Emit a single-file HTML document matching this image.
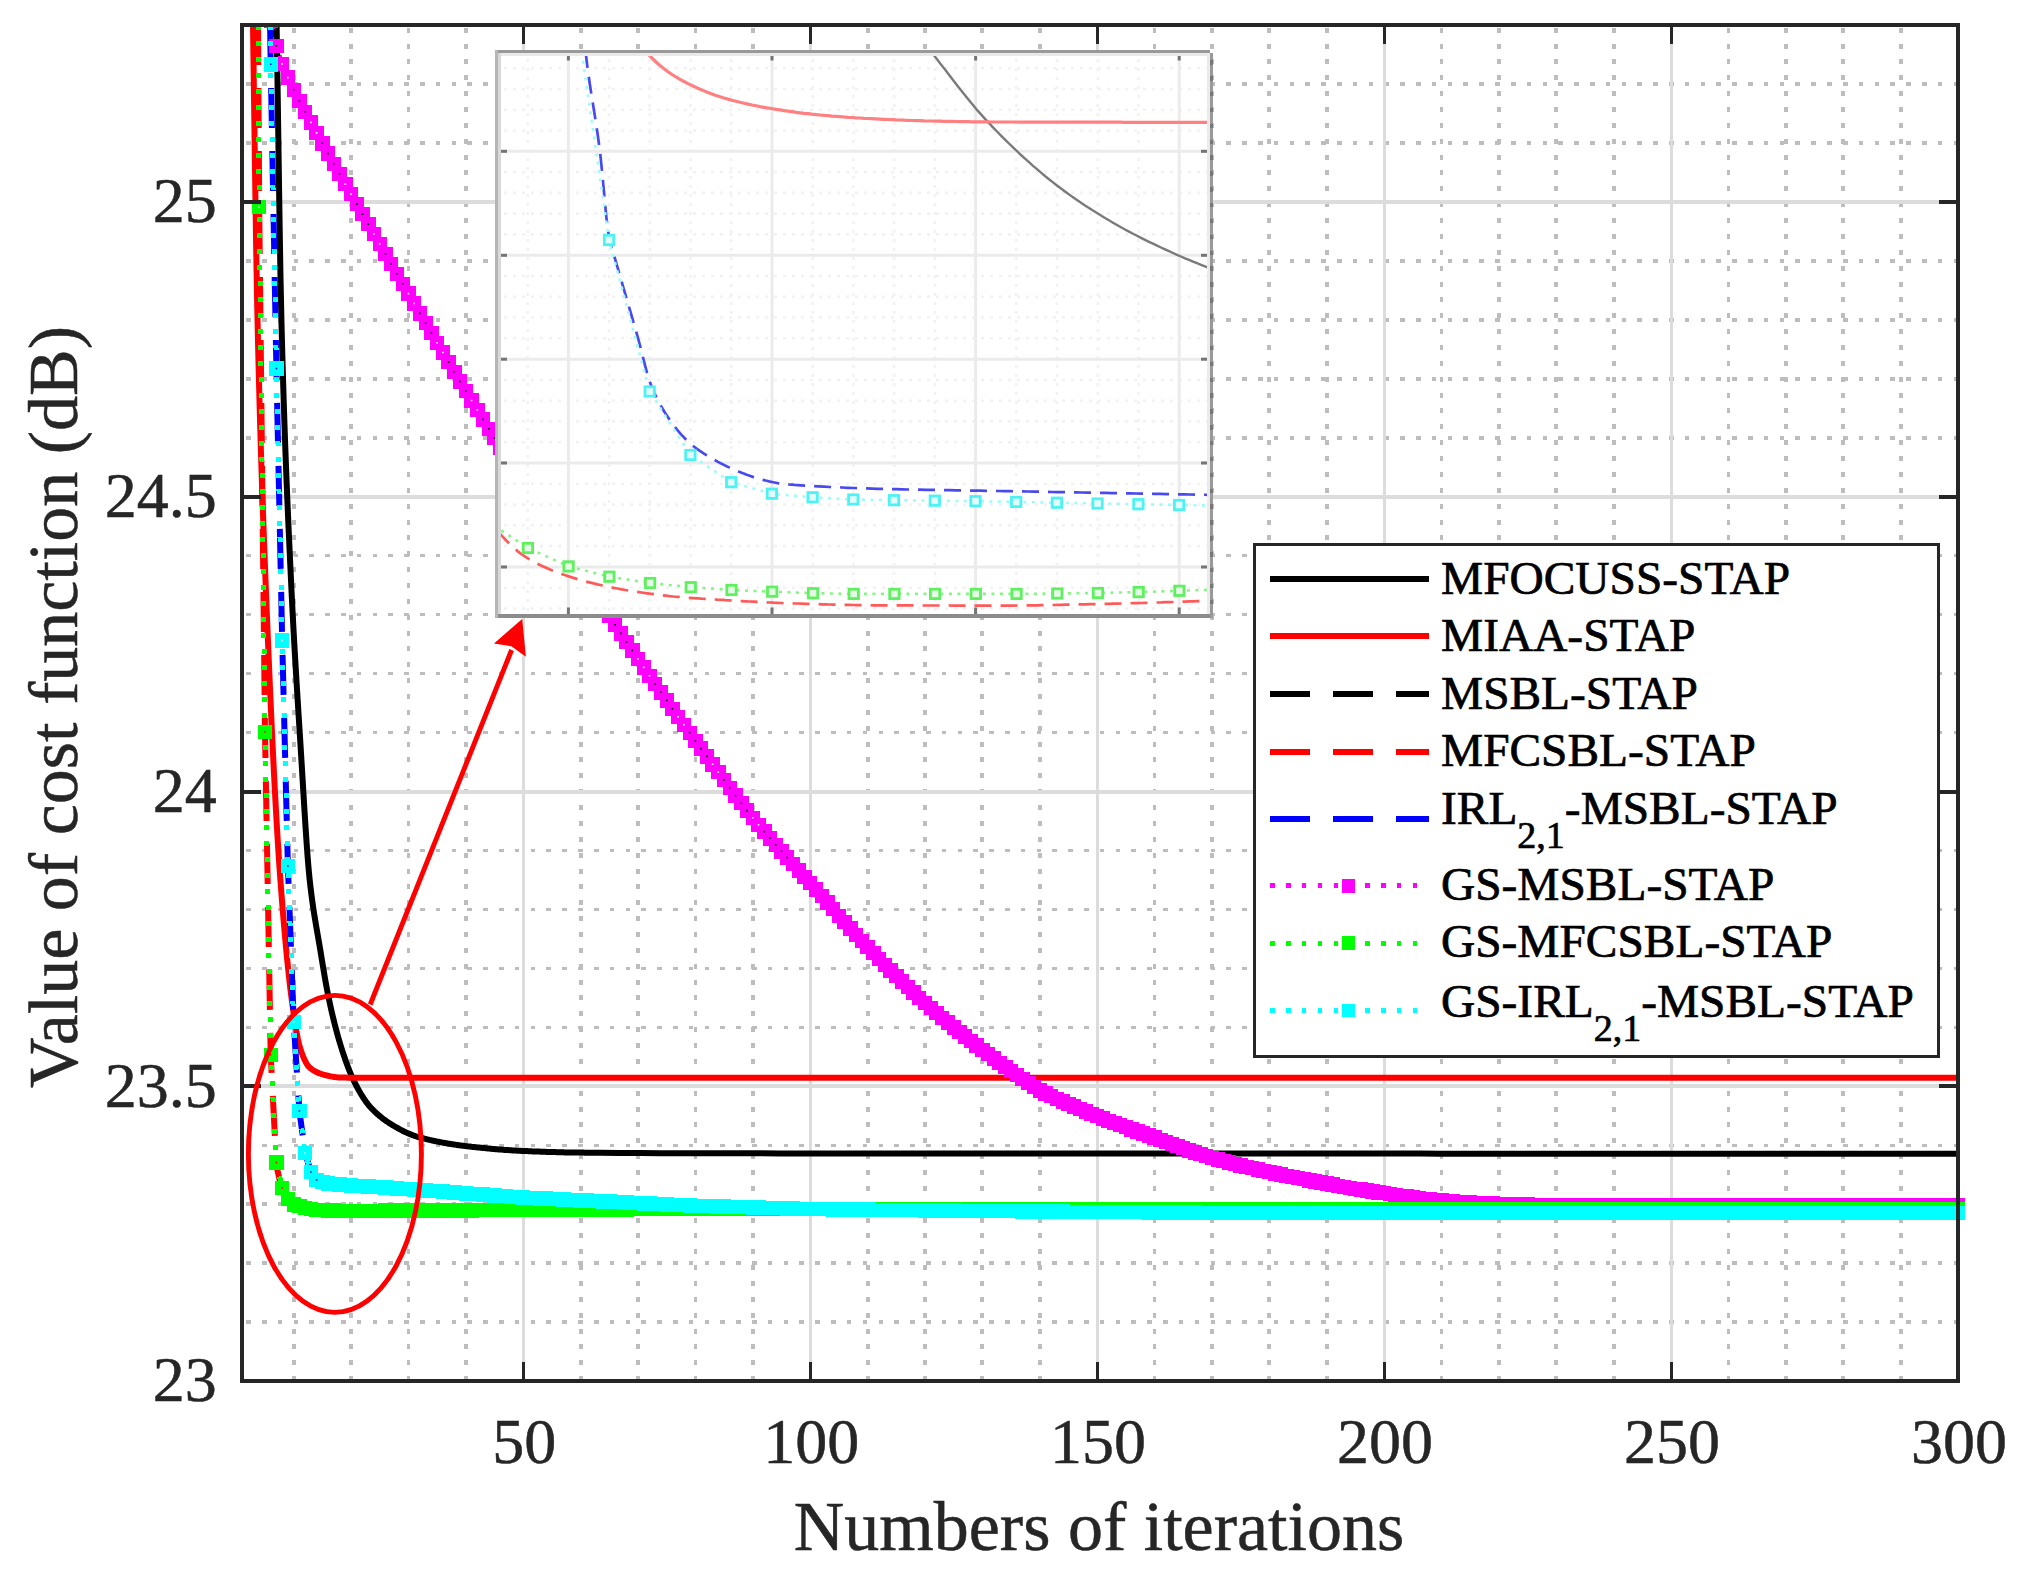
<!DOCTYPE html>
<html lang="en"><head><meta charset="utf-8">
<title>Value of cost function versus numbers of iterations</title>
<style>
html,body{margin:0;padding:0;background:#fff;}
body{width:2022px;height:1577px;overflow:hidden;}
svg{display:block;}
text{font-family:"Liberation Serif", "Times New Roman", Times, serif;fill:#262626;stroke:#262626;stroke-width:0.5px;}
text.lg{fill:#000000;stroke:#000000;stroke-width:0.7px;}
</style></head><body>
<svg width="2022" height="1577" viewBox="0 0 2022 1577">
<rect x="0" y="0" width="2022" height="1577" fill="#ffffff"/>
<defs>
<clipPath id="axclip"><rect x="242" y="23" width="1724" height="1358"/></clipPath>
<clipPath id="inclip"><rect x="498" y="53" width="712" height="561.5"/></clipPath>
<filter id="soft" x="-2%" y="-2%" width="104%" height="104%"><feGaussianBlur stdDeviation="0.75"/></filter>
</defs>
<g id="grid" shape-rendering="crispEdges">
<line x1="293.7" y1="25" x2="293.7" y2="1381" stroke="#bdbdbd" stroke-width="3.8" stroke-dasharray="5 10.865" stroke-dashoffset="-2.7"/>
<line x1="351" y1="25" x2="351" y2="1381" stroke="#bdbdbd" stroke-width="3.8" stroke-dasharray="5 10.865" stroke-dashoffset="-2.7"/>
<line x1="408.4" y1="25" x2="408.4" y2="1381" stroke="#bdbdbd" stroke-width="3.8" stroke-dasharray="5 10.865" stroke-dashoffset="-2.7"/>
<line x1="465.8" y1="25" x2="465.8" y2="1381" stroke="#bdbdbd" stroke-width="3.8" stroke-dasharray="5 10.865" stroke-dashoffset="-2.7"/>
<line x1="580.6" y1="25" x2="580.6" y2="1381" stroke="#bdbdbd" stroke-width="3.8" stroke-dasharray="5 10.865" stroke-dashoffset="-2.7"/>
<line x1="638" y1="25" x2="638" y2="1381" stroke="#bdbdbd" stroke-width="3.8" stroke-dasharray="5 10.865" stroke-dashoffset="-2.7"/>
<line x1="695.4" y1="25" x2="695.4" y2="1381" stroke="#bdbdbd" stroke-width="3.8" stroke-dasharray="5 10.865" stroke-dashoffset="-2.7"/>
<line x1="752.8" y1="25" x2="752.8" y2="1381" stroke="#bdbdbd" stroke-width="3.8" stroke-dasharray="5 10.865" stroke-dashoffset="-2.7"/>
<line x1="867.6" y1="25" x2="867.6" y2="1381" stroke="#bdbdbd" stroke-width="3.8" stroke-dasharray="5 10.865" stroke-dashoffset="-2.7"/>
<line x1="925" y1="25" x2="925" y2="1381" stroke="#bdbdbd" stroke-width="3.8" stroke-dasharray="5 10.865" stroke-dashoffset="-2.7"/>
<line x1="982.3" y1="25" x2="982.3" y2="1381" stroke="#bdbdbd" stroke-width="3.8" stroke-dasharray="5 10.865" stroke-dashoffset="-2.7"/>
<line x1="1039.7" y1="25" x2="1039.7" y2="1381" stroke="#bdbdbd" stroke-width="3.8" stroke-dasharray="5 10.865" stroke-dashoffset="-2.7"/>
<line x1="1154.5" y1="25" x2="1154.5" y2="1381" stroke="#bdbdbd" stroke-width="3.8" stroke-dasharray="5 10.865" stroke-dashoffset="-2.7"/>
<line x1="1211.9" y1="25" x2="1211.9" y2="1381" stroke="#bdbdbd" stroke-width="3.8" stroke-dasharray="5 10.865" stroke-dashoffset="-2.7"/>
<line x1="1269.3" y1="25" x2="1269.3" y2="1381" stroke="#bdbdbd" stroke-width="3.8" stroke-dasharray="5 10.865" stroke-dashoffset="-2.7"/>
<line x1="1326.7" y1="25" x2="1326.7" y2="1381" stroke="#bdbdbd" stroke-width="3.8" stroke-dasharray="5 10.865" stroke-dashoffset="-2.7"/>
<line x1="1441.5" y1="25" x2="1441.5" y2="1381" stroke="#bdbdbd" stroke-width="3.8" stroke-dasharray="5 10.865" stroke-dashoffset="-2.7"/>
<line x1="1498.9" y1="25" x2="1498.9" y2="1381" stroke="#bdbdbd" stroke-width="3.8" stroke-dasharray="5 10.865" stroke-dashoffset="-2.7"/>
<line x1="1556.3" y1="25" x2="1556.3" y2="1381" stroke="#bdbdbd" stroke-width="3.8" stroke-dasharray="5 10.865" stroke-dashoffset="-2.7"/>
<line x1="1613.7" y1="25" x2="1613.7" y2="1381" stroke="#bdbdbd" stroke-width="3.8" stroke-dasharray="5 10.865" stroke-dashoffset="-2.7"/>
<line x1="1728.4" y1="25" x2="1728.4" y2="1381" stroke="#bdbdbd" stroke-width="3.8" stroke-dasharray="5 10.865" stroke-dashoffset="-2.7"/>
<line x1="1785.8" y1="25" x2="1785.8" y2="1381" stroke="#bdbdbd" stroke-width="3.8" stroke-dasharray="5 10.865" stroke-dashoffset="-2.7"/>
<line x1="1843.2" y1="25" x2="1843.2" y2="1381" stroke="#bdbdbd" stroke-width="3.8" stroke-dasharray="5 10.865" stroke-dashoffset="-2.7"/>
<line x1="1900.6" y1="25" x2="1900.6" y2="1381" stroke="#bdbdbd" stroke-width="3.8" stroke-dasharray="5 10.865" stroke-dashoffset="-2.7"/>
<line x1="242" y1="1322" x2="1958" y2="1322" stroke="#bdbdbd" stroke-width="3.4" stroke-dasharray="4.6 11.21" stroke-dashoffset="-4.1"/>
<line x1="242" y1="1263.1" x2="1958" y2="1263.1" stroke="#bdbdbd" stroke-width="3.4" stroke-dasharray="4.6 11.21" stroke-dashoffset="-4.1"/>
<line x1="242" y1="1204.1" x2="1958" y2="1204.1" stroke="#bdbdbd" stroke-width="3.4" stroke-dasharray="4.6 11.21" stroke-dashoffset="-4.1"/>
<line x1="242" y1="1145.2" x2="1958" y2="1145.2" stroke="#bdbdbd" stroke-width="3.4" stroke-dasharray="4.6 11.21" stroke-dashoffset="-4.1"/>
<line x1="242" y1="1027.3" x2="1958" y2="1027.3" stroke="#bdbdbd" stroke-width="3.4" stroke-dasharray="4.6 11.21" stroke-dashoffset="-4.1"/>
<line x1="242" y1="968.4" x2="1958" y2="968.4" stroke="#bdbdbd" stroke-width="3.4" stroke-dasharray="4.6 11.21" stroke-dashoffset="-4.1"/>
<line x1="242" y1="909.4" x2="1958" y2="909.4" stroke="#bdbdbd" stroke-width="3.4" stroke-dasharray="4.6 11.21" stroke-dashoffset="-4.1"/>
<line x1="242" y1="850.5" x2="1958" y2="850.5" stroke="#bdbdbd" stroke-width="3.4" stroke-dasharray="4.6 11.21" stroke-dashoffset="-4.1"/>
<line x1="242" y1="732.5" x2="1958" y2="732.5" stroke="#bdbdbd" stroke-width="3.4" stroke-dasharray="4.6 11.21" stroke-dashoffset="-4.1"/>
<line x1="242" y1="673.6" x2="1958" y2="673.6" stroke="#bdbdbd" stroke-width="3.4" stroke-dasharray="4.6 11.21" stroke-dashoffset="-4.1"/>
<line x1="242" y1="614.6" x2="1958" y2="614.6" stroke="#bdbdbd" stroke-width="3.4" stroke-dasharray="4.6 11.21" stroke-dashoffset="-4.1"/>
<line x1="242" y1="555.7" x2="1958" y2="555.7" stroke="#bdbdbd" stroke-width="3.4" stroke-dasharray="4.6 11.21" stroke-dashoffset="-4.1"/>
<line x1="242" y1="437.8" x2="1958" y2="437.8" stroke="#bdbdbd" stroke-width="3.4" stroke-dasharray="4.6 11.21" stroke-dashoffset="-4.1"/>
<line x1="242" y1="378.9" x2="1958" y2="378.9" stroke="#bdbdbd" stroke-width="3.4" stroke-dasharray="4.6 11.21" stroke-dashoffset="-4.1"/>
<line x1="242" y1="319.9" x2="1958" y2="319.9" stroke="#bdbdbd" stroke-width="3.4" stroke-dasharray="4.6 11.21" stroke-dashoffset="-4.1"/>
<line x1="242" y1="261" x2="1958" y2="261" stroke="#bdbdbd" stroke-width="3.4" stroke-dasharray="4.6 11.21" stroke-dashoffset="-4.1"/>
<line x1="242" y1="143" x2="1958" y2="143" stroke="#bdbdbd" stroke-width="3.4" stroke-dasharray="4.6 11.21" stroke-dashoffset="-4.1"/>
<line x1="242" y1="84.1" x2="1958" y2="84.1" stroke="#bdbdbd" stroke-width="3.4" stroke-dasharray="4.6 11.21" stroke-dashoffset="-4.1"/>
<rect x="522" y="27" width="3" height="1352" fill="#dcdcdc"/>
<rect x="809" y="27" width="3" height="1352" fill="#dcdcdc"/>
<rect x="1096" y="27" width="3" height="1352" fill="#dcdcdc"/>
<rect x="1383" y="27" width="3" height="1352" fill="#dcdcdc"/>
<rect x="1670" y="27" width="3" height="1352" fill="#dcdcdc"/>
<rect x="244" y="1084" width="1712" height="4" fill="#dcdcdc"/>
<rect x="244" y="790" width="1712" height="4" fill="#dcdcdc"/>
<rect x="244" y="495" width="1712" height="4" fill="#dcdcdc"/>
<rect x="244" y="200" width="1712" height="4" fill="#dcdcdc"/>
</g>
<g id="curves" clip-path="url(#axclip)" fill="none" stroke-linejoin="round">
<polyline points="272.5,-200 273.5,-147.4 274.5,-93.3 275.5,-37.8 276.5,19.2 277.5,81.2 278.5,149.4 279.5,217 280.5,277.4 281.5,323.9 282.5,361 283.5,394.7 284.5,425.3 285.5,453.4 286.5,479.3 287.5,503.5 288.5,526.3 289.5,548.1 290.5,569.4 291.5,590.4 292.5,610.4 293.5,629.3 294.5,647.3 295.5,664.5 296.5,681.2 297.5,697.4 298.5,713.4 299.5,729.2 300.5,745 301.5,761.2 302.5,777.7 303.5,794.3 304.5,810.7 305.5,826.5 306.5,841.4 307.5,855.2 308.5,867.5 309.5,878.1 310.5,887.1 311.5,895.2 312.5,902.7 313.5,909.6 314.5,916 315.5,922.1 316.5,927.9 317.5,933.7 318.5,939.4 319.5,945.2 320.5,951.2 321.5,957.4 322.5,963.5 323.5,969.5 324.5,975.5 325.5,981.2 326.5,986.8 327.5,992 328.5,997 329.5,1001.7 330.5,1006.3 331.5,1010.8 332.5,1015.1 333.5,1019.3 334.5,1023.4 335.5,1027.3 336.5,1031.1 337.5,1034.8 338.5,1038.3 339.5,1041.7 340.5,1045 341.5,1048.1 342.5,1051.3 343.5,1054.3 344.5,1057.3 345.5,1060.2 346.5,1063 347.5,1065.7 348.5,1068.3 349.5,1070.9 350.5,1073.3 351.5,1075.7 352.5,1077.9 353.5,1080.1 354.5,1082.1 355.5,1084.1 356.5,1086 357.5,1087.9 358.5,1089.7 359.5,1091.5 360.5,1093.2 361.5,1094.9 362.5,1096.5 363.5,1098 364.5,1099.6 365.5,1101 366.5,1102.4 367.5,1103.7 368.5,1105 369.5,1106.2 370.5,1107.3 371.5,1108.4 372.5,1109.4 373.5,1110.4 374.5,1111.4 375.5,1112.3 376.5,1113.3 377.5,1114.2 378.5,1115 379.5,1115.9 380.5,1116.7 381.5,1117.5 382.5,1118.3 383.5,1119.1 384.5,1119.8 385.5,1120.5 386.5,1121.2 387.5,1121.9 388.5,1122.6 389.5,1123.2 390.5,1123.9 391.5,1124.5 392.5,1125.1 393.5,1125.7 394.5,1126.3 395.5,1126.9 396.5,1127.4 397.5,1128 398.5,1128.5 399.5,1129.1 400.5,1129.6 401.5,1130.1 402.5,1130.7 403.5,1131.2 404.5,1131.7 405.5,1132.1 406.5,1132.6 407.5,1133.1 408.5,1133.5 409.5,1133.9 410.5,1134.3 411.5,1134.7 412.5,1135.1 413.5,1135.5 414.5,1135.8 415.5,1136.2 416.5,1136.5 417.5,1136.8 418.5,1137.1 419.5,1137.3 420.5,1137.6 421.5,1137.9 422.5,1138.1 423.5,1138.4 424.5,1138.7 425.5,1138.9 426.5,1139.2 427.5,1139.4 428.5,1139.6 429.5,1139.9 430.5,1140.1 431.5,1140.3 432.5,1140.6 433.5,1140.8 434.5,1141 435.5,1141.2 436.5,1141.4 437.5,1141.6 438.5,1141.8 439.5,1142 440.5,1142.2 441.5,1142.4 442.5,1142.6 443.5,1142.8 444.5,1143 445.5,1143.1 446.5,1143.3 447.5,1143.5 448.5,1143.7 449.5,1143.8 450.5,1144 451.5,1144.1 452.5,1144.3 453.5,1144.5 454.5,1144.6 455.5,1144.7 456.5,1144.9 457.5,1145 458.5,1145.2 459.5,1145.3 460.5,1145.4 461.5,1145.6 462.5,1145.7 463.5,1145.8 464.5,1145.9 465.5,1146.1 466.5,1146.2 467.5,1146.3 468.5,1146.4 469.5,1146.5 470.5,1146.6 471.5,1146.8 472.5,1146.9 473.5,1147 474.5,1147.1 475.5,1147.2 476.5,1147.3 477.5,1147.4 478.5,1147.5 479.5,1147.6 480.5,1147.7 481.5,1147.8 482.5,1147.9 483.5,1148 484.5,1148.1 485.5,1148.2 486.5,1148.3 487.5,1148.4 488.5,1148.5 489.5,1148.6 490.5,1148.7 491.5,1148.8 492.5,1148.9 493.5,1149 494.5,1149.1 495.5,1149.2 496.5,1149.2 497.5,1149.3 498.5,1149.4 499.5,1149.5 500.5,1149.6 501.5,1149.6 502.5,1149.7 503.5,1149.8 504.5,1149.9 505.5,1149.9 506.5,1150 507.5,1150.1 508.5,1150.1 509.5,1150.2 510.5,1150.3 511.5,1150.3 512.5,1150.4 513.5,1150.5 514.5,1150.5 515.5,1150.6 516.5,1150.6 517.5,1150.7 518.5,1150.7 519.5,1150.8 520.5,1150.8 521.5,1150.9 522.5,1150.9 523.5,1151 524.5,1151 525.5,1151.1 526.5,1151.1 527.5,1151.1 528.5,1151.2 529.5,1151.2 530.5,1151.3 531.5,1151.3 532.5,1151.4 533.5,1151.4 534.5,1151.4 535.5,1151.5 536.5,1151.5 537.5,1151.5 538.5,1151.6 539.5,1151.6 540.5,1151.7 541.5,1151.7 542.5,1151.7 543.5,1151.8 544.5,1151.8 545.5,1151.8 546.5,1151.9 547.5,1151.9 548.5,1151.9 549.5,1152 550.5,1152 551.5,1152 552.5,1152 553.5,1152.1 554.5,1152.1 555.5,1152.1 556.5,1152.2 557.5,1152.2 558.5,1152.2 559.5,1152.2 560.5,1152.3 561.5,1152.3 562.5,1152.3 563.5,1152.3 564.5,1152.4 565.5,1152.4 566.5,1152.4 567.5,1152.4 568.5,1152.4 569.5,1152.5 570.5,1152.5 571.5,1152.5 572.5,1152.5 573.5,1152.5 574.5,1152.5 575.5,1152.6 576.5,1152.6 577.5,1152.6 578.5,1152.6 579.5,1152.6 580.5,1152.6 581.5,1152.6 582.5,1152.6 583.5,1152.6 584.5,1152.7 585.5,1152.7 586.5,1152.7 587.5,1152.7 588.5,1152.7 589.5,1152.7 590.5,1152.7 591.5,1152.7 592.5,1152.7 593.5,1152.7 594.5,1152.7 595.5,1152.8 596.5,1152.8 597.5,1152.8 598.5,1152.8 599.5,1152.8 600,1152.8 620,1153 640,1153.1 660,1153.2 680,1153.3 700,1153.3 720,1153.3 740,1153.3 760,1153.3 780,1153.4 800,1153.4 820,1153.4 840,1153.4 860,1153.4 880,1153.4 900,1153.4 920,1153.5 940,1153.5 960,1153.5 980,1153.5 1000,1153.5 1020,1153.5 1040,1153.5 1060,1153.5 1080,1153.5 1100,1153.5 1120,1153.6 1140,1153.6 1160,1153.6 1180,1153.6 1200,1153.6 1220,1153.6 1240,1153.6 1260,1153.6 1280,1153.6 1300,1153.6 1320,1153.6 1340,1153.6 1360,1153.6 1380,1153.6 1400,1153.6 1420,1153.6 1440,1153.7 1460,1153.7 1480,1153.7 1500,1153.7 1520,1153.7 1540,1153.7 1560,1153.7 1580,1153.7 1600,1153.7 1620,1153.7 1640,1153.7 1660,1153.7 1680,1153.7 1700,1153.7 1720,1153.7 1740,1153.7 1760,1153.7 1780,1153.7 1800,1153.7 1820,1153.7 1840,1153.7 1860,1153.7 1880,1153.7 1900,1153.7 1920,1153.7 1940,1153.7 1957.5,1153.7" stroke="#000000" stroke-width="6"/>
<polyline points="250,-200 251,-122.3 252,-47.1 253,25 254,97 255,169.2 256,237 257,295.6 258,341.9 259,382.6 260,419.6 261,453.5 262,484.7 263,513.7 264,541 265,567.2 266,592.7 267,617.6 268,641.9 269,665.6 270,688.7 271,711 272,732.7 273,753.5 274,773.5 275,792.7 276,811 277,828.4 278,844.8 279,860.2 280,874.6 281,887.9 282,900.8 283,913.2 284,925 285,936.4 286,947.3 287,957.6 288,967.5 289,976.8 290,985.6 291,993.9 292,1001.7 293,1008.9 294,1015.7 295,1022.3 296,1028.5 297,1034.2 298,1039.4 299,1044 300,1047.7 301,1050.8 302,1053.5 303,1056.1 304,1058.5 305,1060.7 306,1062.6 307,1064.3 308,1065.8 309,1066.9 310,1067.8 311,1068.6 312,1069.4 313,1070.1 314,1070.7 315,1071.3 316,1071.8 317,1072.3 318,1072.7 319,1073.2 320,1073.5 321,1073.9 322,1074.2 323,1074.5 324,1074.8 325,1075 326,1075.3 327,1075.5 328,1075.7 329,1076 330,1076.2 331,1076.4 332,1076.6 333,1076.8 334,1076.9 335,1077.1 336,1077.2 337,1077.3 338,1077.4 339,1077.5 340,1077.5 341,1077.5 342,1077.6 343,1077.6 344,1077.6 345,1077.6 346,1077.6 347,1077.7 348,1077.7 349,1077.7 350,1077.7 351,1077.7 352,1077.7 353,1077.8 354,1077.8 355,1077.8 356,1077.8 357,1077.8 358,1077.8 359,1077.8 360,1077.8 361,1077.8 362,1077.8 363,1077.8 364,1077.8 365,1077.8 366,1077.8 367,1077.8 368,1077.8 369,1077.8 370,1077.8 371,1077.8 372,1077.8 373,1077.8 374,1077.8 375,1077.8 376,1077.8 377,1077.8 378,1077.8 379,1077.8 380,1077.8 381,1077.8 382,1077.8 383,1077.8 384,1077.8 385,1077.8 386,1077.8 387,1077.8 388,1077.8 389,1077.8 390,1077.8 391,1077.8 392,1077.8 393,1077.8 394,1077.8 395,1077.8 396,1077.8 397,1077.8 398,1077.8 399,1077.8 1957.5,1077.8" stroke="#ff0000" stroke-width="6"/>
<polyline points="271.6,25 276.4,45.9 282.2,63.9 287.9,77.6 293.7,89.8 299.4,101 305.1,111.8 310.9,122.4 316.6,132.9 322.3,143.3 328.1,153.6 333.8,163.8 339.6,174 345.3,184.1 351,194.1 356.8,204.1 362.5,214.1 368.3,224.1 374,234 379.7,244 385.5,254 391.2,263.9 397,273.8 402.7,283.8 408.4,293.6 414.2,303.5 419.9,313.4 425.7,323.2 431.4,333 437.1,342.7 442.9,352.5 448.6,362.1 454.3,371.8 460.1,381.4 465.8,391 471.6,400.5 477.3,410 483,419.4 488.8,428.8 494.5,438.1 500.3,447.3 506,456.5 511.7,465.7 517.5,474.8 523.2,483.9 529,493 534.7,502 540.4,510.9 546.2,519.9 551.9,528.7 557.7,537.6 563.4,546.4 569.1,555.2 574.9,564 580.6,572.8 586.3,581.5 592.1,590.2 597.8,598.9 603.6,607.5 609.3,616.2 615,624.8 620.8,633.4 626.5,642 632.3,650.5 638,659 643.7,667.4 649.5,675.8 655.2,684.1 661,692.3 666.7,700.5 672.4,708.7 678.2,716.8 683.9,724.8 689.7,732.8 695.4,740.7 701.1,748.6 706.9,756.4 712.6,764.3 718.3,772.2 724.1,780.1 729.8,787.9 735.6,795.6 741.3,803.2 747,810.6 752.8,817.8 758.5,824.8 764.3,831.6 770,838.3 775.7,844.8 781.5,851.3 787.2,857.6 793,864 798.7,870.3 804.4,876.7 810.2,883.1 815.9,889.6 821.7,896.1 827.4,902.6 833.1,909.2 838.9,915.7 844.6,922.2 850.3,928.6 856.1,934.9 861.8,941.1 867.6,947.1 873.3,953 879,958.9 884.8,964.7 890.5,970.4 896.3,976 902,981.6 907.7,987.1 913.5,992.5 919.2,997.7 925,1002.9 930.7,1008 936.4,1013 942.2,1017.8 947.9,1022.6 953.7,1027.3 959.4,1032 965.1,1036.5 970.9,1041 976.6,1045.5 982.3,1049.8 988.1,1054.2 993.8,1058.5 999.6,1062.7 1005.3,1066.9 1011,1071 1016.8,1075 1022.5,1079 1028.3,1082.9 1034,1086.8 1039.7,1090.6 1045.5,1093.4 1051.2,1096.1 1057,1098.7 1062.7,1101.4 1068.4,1104 1074.2,1106.5 1079.9,1109 1085.7,1111.5 1091.4,1113.9 1097.1,1116.2 1102.9,1118.5 1108.6,1120.8 1114.3,1123 1120.1,1125.1 1125.8,1127.2 1131.6,1129.3 1137.3,1131.4 1143,1133.5 1148.8,1135.5 1154.5,1137.6 1160.3,1139.7 1166,1141.8 1171.7,1143.9 1177.5,1146.1 1183.2,1148.2 1189,1150.3 1194.7,1152.3 1200.4,1154.2 1206.2,1156.1 1211.9,1157.8 1217.7,1159.5 1223.4,1161 1229.1,1162.5 1234.9,1164 1240.6,1165.4 1246.3,1166.8 1252.1,1168.1 1257.8,1169.4 1263.6,1170.7 1269.3,1172 1275,1173.3 1280.8,1174.5 1286.5,1175.7 1292.3,1176.9 1298,1178.1 1303.7,1179.2 1309.5,1180.4 1315.2,1181.5 1321,1182.5 1326.7,1183.6 1332.4,1184.6 1338.2,1185.7 1343.9,1186.7 1349.7,1187.7 1355.4,1188.7 1361.1,1189.6 1366.9,1190.6 1372.6,1191.5 1378.3,1192.4 1384.1,1193.2 1389.8,1194 1395.6,1194.9 1401.3,1195.7 1407,1196.5 1412.8,1197.3 1418.5,1198 1424.3,1198.7 1430,1199.3 1435.7,1199.9 1441.5,1200.4 1447.2,1200.8 1453,1201.3 1458.7,1201.7 1464.4,1202 1470.2,1202.4 1475.9,1202.7 1481.7,1203 1487.4,1203.3 1493.1,1203.5 1498.9,1203.7 1504.6,1203.9 1510.3,1204.1 1516.1,1204.2 1521.8,1204.4 1527.6,1204.5 1533.3,1204.7 1539,1204.8 1544.8,1204.9 1550.5,1204.9 1556.3,1205 1562,1205 1567.7,1205.1 1573.5,1205.1 1579.2,1205.2 1585,1205.2 1590.7,1205.2 1596.4,1205.3 1602.2,1205.3 1607.9,1205.3 1613.7,1205.3 1619.4,1205.4 1625.1,1205.4 1630.9,1205.4 1636.6,1205.4 1642.3,1205.4 1648.1,1205.4 1653.8,1205.4 1659.6,1205.4 1665.3,1205.4 1671,1205.4 1676.8,1205.4 1682.5,1205.4 1688.3,1205.4 1694,1205.4 1699.7,1205.4 1705.5,1205.4 1711.2,1205.4 1717,1205.4 1722.7,1205.4 1728.4,1205.4 1734.2,1205.4 1739.9,1205.4 1745.7,1205.4 1751.4,1205.4 1757.1,1205.4 1762.9,1205.4 1768.6,1205.4 1774.3,1205.4 1780.1,1205.4 1785.8,1205.4 1791.6,1205.4 1797.3,1205.4 1803,1205.4 1808.8,1205.4 1814.5,1205.4 1820.3,1205.4 1826,1205.4 1831.7,1205.4 1837.5,1205.4 1843.2,1205.4 1849,1205.4 1854.7,1205.4 1860.4,1205.4 1866.2,1205.4 1871.9,1205.4 1877.7,1205.4 1883.4,1205.4 1889.1,1205.4 1894.9,1205.4 1900.6,1205.4 1906.3,1205.4 1912.1,1205.4 1917.8,1205.4 1923.6,1205.4 1929.3,1205.4 1935,1205.4 1940.8,1205.4 1946.5,1205.4 1952.3,1205.4 1958,1205.4" stroke="#000000" stroke-width="2" stroke-dasharray="40 23"/>
<polyline points="258,25 259.2,207 265,732 270.7,1054.7 276.4,1165.6 282.2,1191 287.9,1202 293.7,1207.5 299.4,1209.2 305.1,1211 310.9,1212 316.6,1213 322.3,1213.2 328.1,1213.4 333.8,1213.5 339.6,1213.7 345.3,1213.8 351,1213.8 356.8,1213.8 362.5,1213.7 368.3,1213.7 374,1213.7 379.7,1213.7 385.5,1213.6 391.2,1213.6 397,1213.6 402.7,1213.6 408.4,1213.6 414.2,1213.5 419.9,1213.5 425.7,1213.5 431.4,1213.4 437.1,1213.4 442.9,1213.4 448.6,1213.4 454.3,1213.3 460.1,1213.3 465.8,1213.3 471.6,1213.3 477.3,1213.2 483,1213.2 488.8,1213.2 494.5,1213.1 500.3,1213.1 506,1213.1 511.7,1213.1 517.5,1213 523.2,1213 529,1213 534.7,1212.9 540.4,1212.9 546.2,1212.8 551.9,1212.8 557.7,1212.8 563.4,1212.7 569.1,1212.7 574.9,1212.6 580.6,1212.6 586.3,1212.6 592.1,1212.5 597.8,1212.5 603.6,1212.4 609.3,1212.4 615,1212.4 620.8,1212.3 626.5,1212.3 632.3,1212.2 638,1212.2 643.7,1212.2 649.5,1212.1 655.2,1212.1 661,1212 666.7,1212 672.4,1212 678.2,1211.9 683.9,1211.9 689.7,1211.8 695.4,1211.8 701.1,1211.8 706.9,1211.8 712.6,1211.8 718.3,1211.9 724.1,1211.9 729.8,1211.9 735.6,1211.9 741.3,1211.9 747,1211.9 752.8,1211.9 758.5,1211.9 764.3,1212 770,1212 775.7,1212 781.5,1212 787.2,1212 793,1212 798.7,1212 804.4,1212.1 810.2,1212.1 815.9,1212.1 821.7,1212.1 827.4,1212.1 833.1,1212.1 838.9,1212.1 844.6,1212.1 850.3,1212.2 856.1,1212.2 861.8,1212.2 867.6,1212.2 873.3,1212.2 879,1212.2 884.8,1212.2 890.5,1212.2 896.3,1212.2 902,1212.2 907.7,1212.2 913.5,1212.2 919.2,1212.2 925,1212.2 930.7,1212.2 936.4,1212.2 942.2,1212.2 947.9,1212.2 953.7,1212.2 959.4,1212.2 965.1,1212.2 970.9,1212.2 976.6,1212.2 982.3,1212.2 988.1,1212.2 993.8,1212.2 999.6,1212.2 1005.3,1212.2 1011,1212.2 1016.8,1212.2 1022.5,1212.2 1028.3,1212.2 1034,1212.2 1039.7,1212.2 1045.5,1212.2 1051.2,1212.2 1057,1212.2 1062.7,1212.2 1068.4,1212.2 1074.2,1212.2 1079.9,1212.2 1085.7,1212.2 1091.4,1212.2 1097.1,1212.2 1102.9,1212.2 1108.6,1212.2 1114.3,1212.2 1120.1,1212.2 1125.8,1212.1 1131.6,1212.1 1137.3,1212.1 1143,1212.1 1148.8,1212.1 1154.5,1212.1 1160.3,1212.1 1166,1212.1 1171.7,1212.1 1177.5,1212.1 1183.2,1212.1 1189,1212.1 1194.7,1212.1 1200.4,1212.1 1206.2,1212.1 1211.9,1212.1 1217.7,1212.1 1223.4,1212.1 1229.1,1212.1 1234.9,1212.1 1240.6,1212.1 1246.3,1212.1 1252.1,1212.1 1257.8,1212.1 1263.6,1212.1 1269.3,1212.1 1275,1212.1 1280.8,1212.1 1286.5,1212.1 1292.3,1212.1 1298,1212.1 1303.7,1212.1 1309.5,1212.1 1315.2,1212.1 1321,1212.1 1326.7,1212.1 1332.4,1212.1 1338.2,1212.1 1343.9,1212.1 1349.7,1212.1 1355.4,1212.1 1361.1,1212.1 1366.9,1212.1 1372.6,1212.1 1378.3,1212.1 1384.1,1212.1 1389.8,1212.1 1395.6,1212.1 1401.3,1212.1 1407,1212.1 1412.8,1212.1 1418.5,1212.1 1424.3,1212.1 1430,1212.1 1435.7,1212.1 1441.5,1212.1 1447.2,1212.1 1453,1212.1 1458.7,1212.1 1464.4,1212.1 1470.2,1212.1 1475.9,1212.1 1481.7,1212.1 1487.4,1212.1 1493.1,1212.1 1498.9,1212.1 1504.6,1212.1 1510.3,1212.1 1516.1,1212.1 1521.8,1212.1 1527.6,1212 1533.3,1212 1539,1212 1544.8,1212 1550.5,1212 1556.3,1212 1562,1212 1567.7,1212 1573.5,1212 1579.2,1212 1585,1212 1590.7,1212 1596.4,1212 1602.2,1212 1607.9,1212 1613.7,1212 1619.4,1212 1625.1,1212 1630.9,1212 1636.6,1212 1642.3,1212 1648.1,1212 1653.8,1212 1659.6,1212 1665.3,1212 1671,1212 1676.8,1212 1682.5,1212 1688.3,1212 1694,1212 1699.7,1212 1705.5,1212 1711.2,1212 1717,1212 1722.7,1212 1728.4,1212 1734.2,1212 1739.9,1212 1745.7,1212 1751.4,1212 1757.1,1212 1762.9,1212 1768.6,1212 1774.3,1212 1780.1,1212 1785.8,1212 1791.6,1212 1797.3,1212 1803,1212 1808.8,1212 1814.5,1212 1820.3,1211.9 1826,1211.9 1831.7,1211.9 1837.5,1211.9 1843.2,1211.9 1849,1211.9 1854.7,1211.9 1860.4,1211.9 1866.2,1211.9 1871.9,1211.9 1877.7,1211.9 1883.4,1211.9 1889.1,1211.9 1894.9,1211.9 1900.6,1211.9 1906.3,1211.9 1912.1,1211.9 1917.8,1211.9 1923.6,1211.9 1929.3,1211.9 1935,1211.9 1940.8,1211.9 1946.5,1211.9 1952.3,1211.9 1958,1211.9" stroke="#ff0000" stroke-width="6" stroke-dasharray="40 23"/>
<polyline points="270.1,25 270.7,64.3 276.4,368.5 282.2,640.4 287.9,866 293.7,1022 299.4,1111 305.1,1153 310.9,1172 316.6,1180 322.3,1178.8 328.1,1180.5 333.8,1181 339.6,1181.5 345.3,1182 351,1182.4 356.8,1182.7 362.5,1183.1 368.3,1183.5 374,1183.8 379.7,1184.2 385.5,1184.6 391.2,1184.9 397,1185.3 402.7,1185.7 408.4,1186.1 414.2,1186.5 419.9,1187 425.7,1187.4 431.4,1187.8 437.1,1188.2 442.9,1188.6 448.6,1189.1 454.3,1189.5 460.1,1189.9 465.8,1190.3 471.6,1190.7 477.3,1191.2 483,1191.6 488.8,1192 494.5,1192.4 500.3,1192.8 506,1193.2 511.7,1193.7 517.5,1194.1 523.2,1194.5 529,1194.8 534.7,1195.1 540.4,1195.3 546.2,1195.6 551.9,1195.9 557.7,1196.2 563.4,1196.4 569.1,1196.7 574.9,1197 580.6,1197.3 586.3,1197.5 592.1,1197.8 597.8,1198.1 603.6,1198.4 609.3,1198.6 615,1198.9 620.8,1199.2 626.5,1199.5 632.3,1199.7 638,1200 643.7,1200.3 649.5,1200.6 655.2,1200.8 661,1201.1 666.7,1201.4 672.4,1201.7 678.2,1201.9 683.9,1202.2 689.7,1202.5 695.4,1202.7 701.1,1202.9 706.9,1203.1 712.6,1203.2 718.3,1203.4 724.1,1203.5 729.8,1203.7 735.6,1203.9 741.3,1204 747,1204.2 752.8,1204.4 758.5,1204.5 764.3,1204.7 770,1204.9 775.7,1205 781.5,1205.2 787.2,1205.3 793,1205.5 798.7,1205.7 804.4,1205.8 810.2,1206 815.9,1206.1 821.7,1206.1 827.4,1206.2 833.1,1206.3 838.9,1206.3 844.6,1206.4 850.3,1206.5 856.1,1206.5 861.8,1206.6 867.6,1206.6 873.3,1206.7 879,1206.8 884.8,1206.8 890.5,1206.9 896.3,1207 902,1207 907.7,1207.1 913.5,1207.2 919.2,1207.2 925,1207.3 930.7,1207.4 936.4,1207.4 942.2,1207.5 947.9,1207.5 953.7,1207.6 959.4,1207.7 965.1,1207.7 970.9,1207.8 976.6,1207.9 982.3,1207.9 988.1,1208 993.8,1208 999.6,1208.1 1005.3,1208.1 1011,1208.2 1016.8,1208.2 1022.5,1208.3 1028.3,1208.3 1034,1208.4 1039.7,1208.4 1045.5,1208.5 1051.2,1208.5 1057,1208.6 1062.7,1208.6 1068.4,1208.7 1074.2,1208.7 1079.9,1208.8 1085.7,1208.8 1091.4,1208.8 1097.1,1208.9 1102.9,1208.9 1108.6,1209 1114.3,1209 1120.1,1209.1 1125.8,1209.1 1131.6,1209.2 1137.3,1209.2 1143,1209.2 1148.8,1209.3 1154.5,1209.3 1160.3,1209.4 1166,1209.4 1171.7,1209.5 1177.5,1209.5 1183.2,1209.6 1189,1209.6 1194.7,1209.6 1200.4,1209.7 1206.2,1209.7 1211.9,1209.8 1217.7,1209.8 1223.4,1209.9 1229.1,1209.9 1234.9,1210 1240.6,1210 1246.3,1210 1252.1,1210 1257.8,1210 1263.6,1210 1269.3,1210 1275,1210 1280.8,1210 1286.5,1210 1292.3,1210 1298,1210 1303.7,1210 1309.5,1210 1315.2,1210 1321,1210 1326.7,1210 1332.4,1210 1338.2,1210 1343.9,1210 1349.7,1210 1355.4,1210 1361.1,1210 1366.9,1210 1372.6,1210 1378.3,1210 1384.1,1210 1389.8,1210 1395.6,1210 1401.3,1210 1407,1210 1412.8,1210 1418.5,1210 1424.3,1210 1430,1210 1435.7,1210 1441.5,1210 1447.2,1210 1453,1210 1458.7,1210 1464.4,1210 1470.2,1210 1475.9,1210 1481.7,1210 1487.4,1210 1493.1,1210 1498.9,1210 1504.6,1210 1510.3,1210 1516.1,1210 1521.8,1210 1527.6,1210 1533.3,1210 1539,1210 1544.8,1210 1550.5,1210 1556.3,1210 1562,1210 1567.7,1210 1573.5,1210 1579.2,1210 1585,1210 1590.7,1210 1596.4,1210 1602.2,1210 1607.9,1210 1613.7,1210 1619.4,1210 1625.1,1210 1630.9,1210 1636.6,1210 1642.3,1210 1648.1,1210 1653.8,1210 1659.6,1210 1665.3,1210 1671,1210 1676.8,1210 1682.5,1210 1688.3,1210 1694,1210 1699.7,1210 1705.5,1210 1711.2,1210 1717,1210 1722.7,1210 1728.4,1210 1734.2,1210 1739.9,1210 1745.7,1210 1751.4,1210 1757.1,1210 1762.9,1210 1768.6,1210 1774.3,1210 1780.1,1210 1785.8,1210 1791.6,1210 1797.3,1210 1803,1210 1808.8,1210 1814.5,1210 1820.3,1210 1826,1210 1831.7,1210 1837.5,1210 1843.2,1210 1849,1210 1854.7,1210 1860.4,1210 1866.2,1210 1871.9,1210 1877.7,1210 1883.4,1210 1889.1,1210 1894.9,1210 1900.6,1210 1906.3,1210 1912.1,1210 1917.8,1210 1923.6,1210 1929.3,1210 1935,1210 1940.8,1210 1946.5,1210 1952.3,1210 1958,1210" stroke="#0000ff" stroke-width="6" stroke-dasharray="40 23"/>
<g id="gs-msbl">
<polyline points="271.6,25 276.4,45.9 282.2,63.9 287.9,77.6 293.7,89.8 299.4,101 305.1,111.8 310.9,122.4 316.6,132.9 322.3,143.3 328.1,153.6 333.8,163.8 339.6,174 345.3,184.1 351,194.1 356.8,204.1 362.5,214.1 368.3,224.1 374,234 379.7,244 385.5,254 391.2,263.9 397,273.8 402.7,283.8 408.4,293.6 414.2,303.5 419.9,313.4 425.7,323.2 431.4,333 437.1,342.7 442.9,352.5 448.6,362.1 454.3,371.8 460.1,381.4 465.8,391 471.6,400.5 477.3,410 483,419.4 488.8,428.8 494.5,438.1 500.3,447.3 506,456.5 511.7,465.7 517.5,474.8 523.2,483.9 529,493 534.7,502 540.4,510.9 546.2,519.9 551.9,528.7 557.7,537.6 563.4,546.4 569.1,555.2 574.9,564 580.6,572.8 586.3,581.5 592.1,590.2 597.8,598.9 603.6,607.5 609.3,616.2 615,624.8 620.8,633.4 626.5,642 632.3,650.5 638,659 643.7,667.4 649.5,675.8 655.2,684.1 661,692.3 666.7,700.5 672.4,708.7 678.2,716.8 683.9,724.8 689.7,732.8 695.4,740.7 701.1,748.6 706.9,756.4 712.6,764.3 718.3,772.2 724.1,780.1 729.8,787.9 735.6,795.6 741.3,803.2 747,810.6 752.8,817.8 758.5,824.8 764.3,831.6 770,838.3 775.7,844.8 781.5,851.3 787.2,857.6 793,864 798.7,870.3 804.4,876.7 810.2,883.1 815.9,889.6 821.7,896.1 827.4,902.6 833.1,909.2 838.9,915.7 844.6,922.2 850.3,928.6 856.1,934.9 861.8,941.1 867.6,947.1 873.3,953 879,958.9 884.8,964.7 890.5,970.4 896.3,976 902,981.6 907.7,987.1 913.5,992.5 919.2,997.7 925,1002.9 930.7,1008 936.4,1013 942.2,1017.8 947.9,1022.6 953.7,1027.3 959.4,1032 965.1,1036.5 970.9,1041 976.6,1045.5 982.3,1049.8 988.1,1054.2 993.8,1058.5 999.6,1062.7 1005.3,1066.9 1011,1071 1016.8,1075 1022.5,1079 1028.3,1082.9 1034,1086.8 1039.7,1090.6 1045.5,1093.4 1051.2,1096.1 1057,1098.7 1062.7,1101.4 1068.4,1104 1074.2,1106.5 1079.9,1109 1085.7,1111.5 1091.4,1113.9 1097.1,1116.2 1102.9,1118.5 1108.6,1120.8 1114.3,1123 1120.1,1125.1 1125.8,1127.2 1131.6,1129.3 1137.3,1131.4 1143,1133.5 1148.8,1135.5 1154.5,1137.6 1160.3,1139.7 1166,1141.8 1171.7,1143.9 1177.5,1146.1 1183.2,1148.2 1189,1150.3 1194.7,1152.3 1200.4,1154.2 1206.2,1156.1 1211.9,1157.8 1217.7,1159.5 1223.4,1161 1229.1,1162.5 1234.9,1164 1240.6,1165.4 1246.3,1166.8 1252.1,1168.1 1257.8,1169.4 1263.6,1170.7 1269.3,1172 1275,1173.3 1280.8,1174.5 1286.5,1175.7 1292.3,1176.9 1298,1178.1 1303.7,1179.2 1309.5,1180.4 1315.2,1181.5 1321,1182.5 1326.7,1183.6 1332.4,1184.6 1338.2,1185.7 1343.9,1186.7 1349.7,1187.7 1355.4,1188.7 1361.1,1189.6 1366.9,1190.6 1372.6,1191.5 1378.3,1192.4 1384.1,1193.2 1389.8,1194 1395.6,1194.9 1401.3,1195.7 1407,1196.5 1412.8,1197.3 1418.5,1198 1424.3,1198.7 1430,1199.3 1435.7,1199.9 1441.5,1200.4 1447.2,1200.8 1453,1201.3 1458.7,1201.7 1464.4,1202 1470.2,1202.4 1475.9,1202.7 1481.7,1203 1487.4,1203.3 1493.1,1203.5 1498.9,1203.7 1504.6,1203.9 1510.3,1204.1 1516.1,1204.2 1521.8,1204.4 1527.6,1204.5 1533.3,1204.7 1539,1204.8 1544.8,1204.9 1550.5,1204.9 1556.3,1205 1562,1205 1567.7,1205.1 1573.5,1205.1 1579.2,1205.2 1585,1205.2 1590.7,1205.2 1596.4,1205.3 1602.2,1205.3 1607.9,1205.3 1613.7,1205.3 1619.4,1205.4 1625.1,1205.4 1630.9,1205.4 1636.6,1205.4 1642.3,1205.4 1648.1,1205.4 1653.8,1205.4 1659.6,1205.4 1665.3,1205.4 1671,1205.4 1676.8,1205.4 1682.5,1205.4 1688.3,1205.4 1694,1205.4 1699.7,1205.4 1705.5,1205.4 1711.2,1205.4 1717,1205.4 1722.7,1205.4 1728.4,1205.4 1734.2,1205.4 1739.9,1205.4 1745.7,1205.4 1751.4,1205.4 1757.1,1205.4 1762.9,1205.4 1768.6,1205.4 1774.3,1205.4 1780.1,1205.4 1785.8,1205.4 1791.6,1205.4 1797.3,1205.4 1803,1205.4 1808.8,1205.4 1814.5,1205.4 1820.3,1205.4 1826,1205.4 1831.7,1205.4 1837.5,1205.4 1843.2,1205.4 1849,1205.4 1854.7,1205.4 1860.4,1205.4 1866.2,1205.4 1871.9,1205.4 1877.7,1205.4 1883.4,1205.4 1889.1,1205.4 1894.9,1205.4 1900.6,1205.4 1906.3,1205.4 1912.1,1205.4 1917.8,1205.4 1923.6,1205.4 1929.3,1205.4 1935,1205.4 1940.8,1205.4 1946.5,1205.4 1952.3,1205.4 1958,1205.4" stroke="#ff00ff" stroke-width="5" stroke-dasharray="5 11" shape-rendering="crispEdges"/>
<path d="M263.5 13.8h14.4v14.4h-14.4zM269.2 38.7h14.4v14.4h-14.4zM275 56.7h14.4v14.4h-14.4zM280.7 70.4h14.4v14.4h-14.4zM286.5 82.6h14.4v14.4h-14.4zM292.2 93.8h14.4v14.4h-14.4zM297.9 104.6h14.4v14.4h-14.4zM303.7 115.2h14.4v14.4h-14.4zM309.4 125.7h14.4v14.4h-14.4zM315.1 136.1h14.4v14.4h-14.4zM320.9 146.4h14.4v14.4h-14.4zM326.6 156.6h14.4v14.4h-14.4zM332.4 166.8h14.4v14.4h-14.4zM338.1 176.9h14.4v14.4h-14.4zM343.8 186.9h14.4v14.4h-14.4zM349.6 196.9h14.4v14.4h-14.4zM355.3 206.9h14.4v14.4h-14.4zM361.1 216.9h14.4v14.4h-14.4zM366.8 226.8h14.4v14.4h-14.4zM372.5 236.8h14.4v14.4h-14.4zM378.3 246.8h14.4v14.4h-14.4zM384 256.7h14.4v14.4h-14.4zM389.8 266.6h14.4v14.4h-14.4zM395.5 276.6h14.4v14.4h-14.4zM401.2 286.4h14.4v14.4h-14.4zM407 296.3h14.4v14.4h-14.4zM412.7 306.2h14.4v14.4h-14.4zM418.5 316h14.4v14.4h-14.4zM424.2 325.8h14.4v14.4h-14.4zM429.9 335.5h14.4v14.4h-14.4zM435.7 345.3h14.4v14.4h-14.4zM441.4 354.9h14.4v14.4h-14.4zM447.1 364.6h14.4v14.4h-14.4zM452.9 374.2h14.4v14.4h-14.4zM458.6 383.8h14.4v14.4h-14.4zM464.4 393.3h14.4v14.4h-14.4zM470.1 402.8h14.4v14.4h-14.4zM475.8 412.2h14.4v14.4h-14.4zM481.6 421.6h14.4v14.4h-14.4zM487.3 430.9h14.4v14.4h-14.4zM493.1 440.1h14.4v14.4h-14.4zM498.8 449.3h14.4v14.4h-14.4zM504.5 458.5h14.4v14.4h-14.4zM510.3 467.6h14.4v14.4h-14.4zM516 476.7h14.4v14.4h-14.4zM521.8 485.8h14.4v14.4h-14.4zM527.5 494.8h14.4v14.4h-14.4zM533.2 503.7h14.4v14.4h-14.4zM539 512.7h14.4v14.4h-14.4zM544.7 521.5h14.4v14.4h-14.4zM550.5 530.4h14.4v14.4h-14.4zM556.2 539.2h14.4v14.4h-14.4zM561.9 548h14.4v14.4h-14.4zM567.7 556.8h14.4v14.4h-14.4zM573.4 565.6h14.4v14.4h-14.4zM579.1 574.3h14.4v14.4h-14.4zM584.9 583h14.4v14.4h-14.4zM590.6 591.7h14.4v14.4h-14.4zM596.4 600.3h14.4v14.4h-14.4zM602.1 609h14.4v14.4h-14.4zM607.8 617.6h14.4v14.4h-14.4zM613.6 626.2h14.4v14.4h-14.4zM619.3 634.8h14.4v14.4h-14.4zM625.1 643.3h14.4v14.4h-14.4zM630.8 651.8h14.4v14.4h-14.4zM636.5 660.2h14.4v14.4h-14.4zM642.3 668.6h14.4v14.4h-14.4zM648 676.9h14.4v14.4h-14.4zM653.8 685.1h14.4v14.4h-14.4zM659.5 693.3h14.4v14.4h-14.4zM665.2 701.5h14.4v14.4h-14.4zM671 709.6h14.4v14.4h-14.4zM676.7 717.6h14.4v14.4h-14.4zM682.5 725.6h14.4v14.4h-14.4zM688.2 733.5h14.4v14.4h-14.4zM693.9 741.4h14.4v14.4h-14.4zM699.7 749.2h14.4v14.4h-14.4zM705.4 757.1h14.4v14.4h-14.4zM711.1 765h14.4v14.4h-14.4zM716.9 772.9h14.4v14.4h-14.4zM722.6 780.7h14.4v14.4h-14.4zM728.4 788.4h14.4v14.4h-14.4zM734.1 796h14.4v14.4h-14.4zM739.8 803.4h14.4v14.4h-14.4zM745.6 810.6h14.4v14.4h-14.4zM751.3 817.6h14.4v14.4h-14.4zM757.1 824.4h14.4v14.4h-14.4zM762.8 831.1h14.4v14.4h-14.4zM768.5 837.6h14.4v14.4h-14.4zM774.3 844.1h14.4v14.4h-14.4zM780 850.4h14.4v14.4h-14.4zM785.8 856.8h14.4v14.4h-14.4zM791.5 863.1h14.4v14.4h-14.4zM797.2 869.5h14.4v14.4h-14.4zM803 875.9h14.4v14.4h-14.4zM808.7 882.4h14.4v14.4h-14.4zM814.5 888.9h14.4v14.4h-14.4zM820.2 895.4h14.4v14.4h-14.4zM825.9 902h14.4v14.4h-14.4zM831.7 908.5h14.4v14.4h-14.4zM837.4 915h14.4v14.4h-14.4zM843.1 921.4h14.4v14.4h-14.4zM848.9 927.7h14.4v14.4h-14.4zM854.6 933.9h14.4v14.4h-14.4zM860.4 939.9h14.4v14.4h-14.4zM866.1 945.8h14.4v14.4h-14.4zM871.8 951.7h14.4v14.4h-14.4zM877.6 957.5h14.4v14.4h-14.4zM883.3 963.2h14.4v14.4h-14.4zM889.1 968.8h14.4v14.4h-14.4zM894.8 974.4h14.4v14.4h-14.4zM900.5 979.9h14.4v14.4h-14.4zM906.3 985.3h14.4v14.4h-14.4zM912 990.5h14.4v14.4h-14.4zM917.8 995.7h14.4v14.4h-14.4zM923.5 1000.8h14.4v14.4h-14.4zM929.2 1005.8h14.4v14.4h-14.4zM935 1010.6h14.4v14.4h-14.4zM940.7 1015.4h14.4v14.4h-14.4zM946.5 1020.1h14.4v14.4h-14.4zM952.2 1024.8h14.4v14.4h-14.4zM957.9 1029.3h14.4v14.4h-14.4zM963.7 1033.8h14.4v14.4h-14.4zM969.4 1038.3h14.4v14.4h-14.4zM975.1 1042.6h14.4v14.4h-14.4zM980.9 1047h14.4v14.4h-14.4zM986.6 1051.3h14.4v14.4h-14.4zM992.4 1055.5h14.4v14.4h-14.4zM998.1 1059.7h14.4v14.4h-14.4zM1003.8 1063.8h14.4v14.4h-14.4zM1009.6 1067.8h14.4v14.4h-14.4zM1015.3 1071.8h14.4v14.4h-14.4zM1021.1 1075.7h14.4v14.4h-14.4zM1026.8 1079.6h14.4v14.4h-14.4zM1032.5 1083.4h14.4v14.4h-14.4zM1038.3 1086.2h14.4v14.4h-14.4zM1044 1088.9h14.4v14.4h-14.4zM1049.8 1091.5h14.4v14.4h-14.4zM1055.5 1094.2h14.4v14.4h-14.4zM1061.2 1096.8h14.4v14.4h-14.4zM1067 1099.3h14.4v14.4h-14.4zM1072.7 1101.8h14.4v14.4h-14.4zM1078.5 1104.3h14.4v14.4h-14.4zM1084.2 1106.7h14.4v14.4h-14.4zM1089.9 1109h14.4v14.4h-14.4zM1095.7 1111.3h14.4v14.4h-14.4zM1101.4 1113.6h14.4v14.4h-14.4zM1107.1 1115.8h14.4v14.4h-14.4zM1112.9 1117.9h14.4v14.4h-14.4zM1118.6 1120h14.4v14.4h-14.4zM1124.4 1122.1h14.4v14.4h-14.4zM1130.1 1124.2h14.4v14.4h-14.4zM1135.8 1126.3h14.4v14.4h-14.4zM1141.6 1128.3h14.4v14.4h-14.4zM1147.3 1130.4h14.4v14.4h-14.4zM1153.1 1132.5h14.4v14.4h-14.4zM1158.8 1134.6h14.4v14.4h-14.4zM1164.5 1136.7h14.4v14.4h-14.4zM1170.3 1138.9h14.4v14.4h-14.4zM1176 1141h14.4v14.4h-14.4zM1181.8 1143.1h14.4v14.4h-14.4zM1187.5 1145.1h14.4v14.4h-14.4zM1193.2 1147h14.4v14.4h-14.4zM1199 1148.9h14.4v14.4h-14.4zM1204.7 1150.6h14.4v14.4h-14.4zM1210.5 1152.3h14.4v14.4h-14.4zM1216.2 1153.8h14.4v14.4h-14.4zM1221.9 1155.3h14.4v14.4h-14.4zM1227.7 1156.8h14.4v14.4h-14.4zM1233.4 1158.2h14.4v14.4h-14.4zM1239.1 1159.6h14.4v14.4h-14.4zM1244.9 1160.9h14.4v14.4h-14.4zM1250.6 1162.2h14.4v14.4h-14.4zM1256.4 1163.5h14.4v14.4h-14.4zM1262.1 1164.8h14.4v14.4h-14.4zM1267.8 1166.1h14.4v14.4h-14.4zM1273.6 1167.3h14.4v14.4h-14.4zM1279.3 1168.5h14.4v14.4h-14.4zM1285.1 1169.7h14.4v14.4h-14.4zM1290.8 1170.9h14.4v14.4h-14.4zM1296.5 1172h14.4v14.4h-14.4zM1302.3 1173.2h14.4v14.4h-14.4zM1308 1174.3h14.4v14.4h-14.4zM1313.8 1175.3h14.4v14.4h-14.4zM1319.5 1176.4h14.4v14.4h-14.4zM1325.2 1177.4h14.4v14.4h-14.4zM1331 1178.5h14.4v14.4h-14.4zM1336.7 1179.5h14.4v14.4h-14.4zM1342.5 1180.5h14.4v14.4h-14.4zM1348.2 1181.5h14.4v14.4h-14.4zM1353.9 1182.4h14.4v14.4h-14.4zM1359.7 1183.4h14.4v14.4h-14.4zM1365.4 1184.3h14.4v14.4h-14.4zM1371.1 1185.2h14.4v14.4h-14.4zM1376.9 1186h14.4v14.4h-14.4zM1382.6 1186.8h14.4v14.4h-14.4zM1388.4 1187.7h14.4v14.4h-14.4zM1394.1 1188.5h14.4v14.4h-14.4zM1399.8 1189.3h14.4v14.4h-14.4zM1405.6 1190.1h14.4v14.4h-14.4zM1411.3 1190.8h14.4v14.4h-14.4zM1417.1 1191.5h14.4v14.4h-14.4zM1422.8 1192.1h14.4v14.4h-14.4zM1428.5 1192.7h14.4v14.4h-14.4zM1434.3 1193.2h14.4v14.4h-14.4zM1440 1193.6h14.4v14.4h-14.4zM1445.8 1194.1h14.4v14.4h-14.4zM1451.5 1194.5h14.4v14.4h-14.4zM1457.2 1194.8h14.4v14.4h-14.4zM1463 1195.2h14.4v14.4h-14.4zM1468.7 1195.5h14.4v14.4h-14.4zM1474.5 1195.8h14.4v14.4h-14.4zM1480.2 1196.1h14.4v14.4h-14.4zM1485.9 1196.3h14.4v14.4h-14.4zM1491.7 1196.5h14.4v14.4h-14.4zM1497.4 1196.7h14.4v14.4h-14.4zM1503.1 1196.9h14.4v14.4h-14.4zM1508.9 1197h14.4v14.4h-14.4zM1514.6 1197.2h14.4v14.4h-14.4zM1520.4 1197.3h14.4v14.4h-14.4zM1526.1 1197.5h14.4v14.4h-14.4zM1531.8 1197.6h14.4v14.4h-14.4zM1537.6 1197.7h14.4v14.4h-14.4zM1543.3 1197.7h14.4v14.4h-14.4zM1549.1 1197.8h14.4v14.4h-14.4zM1554.8 1197.8h14.4v14.4h-14.4zM1560.5 1197.9h14.4v14.4h-14.4zM1566.3 1197.9h14.4v14.4h-14.4zM1572 1198h14.4v14.4h-14.4zM1577.8 1198h14.4v14.4h-14.4zM1583.5 1198h14.4v14.4h-14.4zM1589.2 1198.1h14.4v14.4h-14.4zM1595 1198.1h14.4v14.4h-14.4zM1600.7 1198.1h14.4v14.4h-14.4zM1606.5 1198.1h14.4v14.4h-14.4zM1612.2 1198.2h14.4v14.4h-14.4zM1617.9 1198.2h14.4v14.4h-14.4zM1623.7 1198.2h14.4v14.4h-14.4zM1629.4 1198.2h14.4v14.4h-14.4zM1635.1 1198.2h14.4v14.4h-14.4zM1640.9 1198.2h14.4v14.4h-14.4zM1646.6 1198.2h14.4v14.4h-14.4zM1652.4 1198.2h14.4v14.4h-14.4zM1658.1 1198.2h14.4v14.4h-14.4zM1663.8 1198.2h14.4v14.4h-14.4zM1669.6 1198.2h14.4v14.4h-14.4zM1675.3 1198.2h14.4v14.4h-14.4zM1681.1 1198.2h14.4v14.4h-14.4zM1686.8 1198.2h14.4v14.4h-14.4zM1692.5 1198.2h14.4v14.4h-14.4zM1698.3 1198.2h14.4v14.4h-14.4zM1704 1198.2h14.4v14.4h-14.4zM1709.8 1198.2h14.4v14.4h-14.4zM1715.5 1198.2h14.4v14.4h-14.4zM1721.2 1198.2h14.4v14.4h-14.4zM1727 1198.2h14.4v14.4h-14.4zM1732.7 1198.2h14.4v14.4h-14.4zM1738.5 1198.2h14.4v14.4h-14.4zM1744.2 1198.2h14.4v14.4h-14.4zM1749.9 1198.2h14.4v14.4h-14.4zM1755.7 1198.2h14.4v14.4h-14.4zM1761.4 1198.2h14.4v14.4h-14.4zM1767.1 1198.2h14.4v14.4h-14.4zM1772.9 1198.2h14.4v14.4h-14.4zM1778.6 1198.2h14.4v14.4h-14.4zM1784.4 1198.2h14.4v14.4h-14.4zM1790.1 1198.2h14.4v14.4h-14.4zM1795.8 1198.2h14.4v14.4h-14.4zM1801.6 1198.2h14.4v14.4h-14.4zM1807.3 1198.2h14.4v14.4h-14.4zM1813.1 1198.2h14.4v14.4h-14.4zM1818.8 1198.2h14.4v14.4h-14.4zM1824.5 1198.2h14.4v14.4h-14.4zM1830.3 1198.2h14.4v14.4h-14.4zM1836 1198.2h14.4v14.4h-14.4zM1841.8 1198.2h14.4v14.4h-14.4zM1847.5 1198.2h14.4v14.4h-14.4zM1853.2 1198.2h14.4v14.4h-14.4zM1859 1198.2h14.4v14.4h-14.4zM1864.7 1198.2h14.4v14.4h-14.4zM1870.5 1198.2h14.4v14.4h-14.4zM1876.2 1198.2h14.4v14.4h-14.4zM1881.9 1198.2h14.4v14.4h-14.4zM1887.7 1198.2h14.4v14.4h-14.4zM1893.4 1198.2h14.4v14.4h-14.4zM1899.1 1198.2h14.4v14.4h-14.4zM1904.9 1198.2h14.4v14.4h-14.4zM1910.6 1198.2h14.4v14.4h-14.4zM1916.4 1198.2h14.4v14.4h-14.4zM1922.1 1198.2h14.4v14.4h-14.4zM1927.8 1198.2h14.4v14.4h-14.4zM1933.6 1198.2h14.4v14.4h-14.4zM1939.3 1198.2h14.4v14.4h-14.4zM1945.1 1198.2h14.4v14.4h-14.4zM1950.8 1198.2h14.4v14.4h-14.4z" fill="#ff00ff" stroke="none" shape-rendering="crispEdges"/>
<path d="M275.6 45.1h1.6v1.6h-1.6zM292.9 89h1.6v1.6h-1.6zM298.6 100.2h1.6v1.6h-1.6zM304.3 111h1.6v1.6h-1.6zM321.5 142.5h1.6v1.6h-1.6zM327.3 152.8h1.6v1.6h-1.6zM333 163h1.6v1.6h-1.6zM338.8 173.2h1.6v1.6h-1.6zM356 203.3h1.6v1.6h-1.6zM361.7 213.3h1.6v1.6h-1.6zM367.5 223.3h1.6v1.6h-1.6zM384.7 253.2h1.6v1.6h-1.6zM390.4 263.1h1.6v1.6h-1.6zM396.2 273h1.6v1.6h-1.6zM401.9 283h1.6v1.6h-1.6zM419.1 312.6h1.6v1.6h-1.6zM424.9 322.4h1.6v1.6h-1.6zM430.6 332.2h1.6v1.6h-1.6zM447.8 361.3h1.6v1.6h-1.6zM453.5 371h1.6v1.6h-1.6zM459.3 380.6h1.6v1.6h-1.6zM465 390.2h1.6v1.6h-1.6zM482.2 418.6h1.6v1.6h-1.6zM488 428h1.6v1.6h-1.6zM493.7 437.3h1.6v1.6h-1.6zM516.7 474h1.6v1.6h-1.6zM522.4 483.1h1.6v1.6h-1.6zM528.2 492.2h1.6v1.6h-1.6zM545.4 519.1h1.6v1.6h-1.6zM551.1 527.9h1.6v1.6h-1.6zM556.9 536.8h1.6v1.6h-1.6zM562.6 545.6h1.6v1.6h-1.6zM579.8 572h1.6v1.6h-1.6zM585.5 580.7h1.6v1.6h-1.6zM591.3 589.4h1.6v1.6h-1.6zM597 598.1h1.6v1.6h-1.6zM614.2 624h1.6v1.6h-1.6zM620 632.6h1.6v1.6h-1.6zM625.7 641.2h1.6v1.6h-1.6zM631.5 649.7h1.6v1.6h-1.6zM654.4 683.3h1.6v1.6h-1.6zM660.2 691.5h1.6v1.6h-1.6zM665.9 699.7h1.6v1.6h-1.6zM671.6 707.9h1.6v1.6h-1.6zM688.9 732h1.6v1.6h-1.6zM694.6 739.9h1.6v1.6h-1.6zM700.3 747.8h1.6v1.6h-1.6zM706.1 755.6h1.6v1.6h-1.6zM723.3 779.3h1.6v1.6h-1.6zM729 787.1h1.6v1.6h-1.6zM734.8 794.8h1.6v1.6h-1.6zM740.5 802.4h1.6v1.6h-1.6zM746.2 809.8h1.6v1.6h-1.6zM763.5 830.8h1.6v1.6h-1.6zM769.2 837.5h1.6v1.6h-1.6zM774.9 844h1.6v1.6h-1.6zM780.7 850.5h1.6v1.6h-1.6zM786.4 856.8h1.6v1.6h-1.6z" fill="#000000" stroke="none"/>
<path d="M281.4 63.1h1.6v1.6h-1.6zM287.1 76.8h1.6v1.6h-1.6zM310.1 121.6h1.6v1.6h-1.6zM315.8 132.1h1.6v1.6h-1.6zM344.5 183.3h1.6v1.6h-1.6zM350.2 193.3h1.6v1.6h-1.6zM373.2 233.2h1.6v1.6h-1.6zM378.9 243.2h1.6v1.6h-1.6zM407.6 292.8h1.6v1.6h-1.6zM413.4 302.7h1.6v1.6h-1.6zM436.3 341.9h1.6v1.6h-1.6zM442.1 351.7h1.6v1.6h-1.6zM470.8 399.7h1.6v1.6h-1.6zM476.5 409.2h1.6v1.6h-1.6zM499.5 446.5h1.6v1.6h-1.6zM505.2 455.7h1.6v1.6h-1.6zM510.9 464.9h1.6v1.6h-1.6zM533.9 501.2h1.6v1.6h-1.6zM539.6 510.1h1.6v1.6h-1.6zM568.3 554.4h1.6v1.6h-1.6zM574.1 563.2h1.6v1.6h-1.6zM602.8 606.7h1.6v1.6h-1.6zM608.5 615.4h1.6v1.6h-1.6zM637.2 658.2h1.6v1.6h-1.6zM642.9 666.6h1.6v1.6h-1.6zM648.7 675h1.6v1.6h-1.6zM677.4 716h1.6v1.6h-1.6zM683.1 724h1.6v1.6h-1.6zM711.8 763.5h1.6v1.6h-1.6zM717.5 771.4h1.6v1.6h-1.6zM752 817h1.6v1.6h-1.6zM757.7 824h1.6v1.6h-1.6z" fill="#ffffff" stroke="none"/>
</g>
<g id="gs-mfcsbl">
<polyline points="258,25 259.2,207 265,732 270.7,1054.7 276.4,1162.6 282.2,1188 287.9,1199 293.7,1204.5 299.4,1206.2 305.1,1208 310.9,1209 316.6,1210 322.3,1210.2 328.1,1210.4 333.8,1210.5 339.6,1210.7 345.3,1210.8 351,1210.8 356.8,1210.8 362.5,1210.7 368.3,1210.7 374,1210.7 379.7,1210.7 385.5,1210.6 391.2,1210.6 397,1210.6 402.7,1210.6 408.4,1210.6 414.2,1210.5 419.9,1210.5 425.7,1210.5 431.4,1210.4 437.1,1210.4 442.9,1210.4 448.6,1210.4 454.3,1210.3 460.1,1210.3 465.8,1210.3 471.6,1210.3 477.3,1210.2 483,1210.2 488.8,1210.2 494.5,1210.1 500.3,1210.1 506,1210.1 511.7,1210.1 517.5,1210 523.2,1210 529,1210 534.7,1209.9 540.4,1209.9 546.2,1209.8 551.9,1209.8 557.7,1209.8 563.4,1209.7 569.1,1209.7 574.9,1209.6 580.6,1209.6 586.3,1209.6 592.1,1209.5 597.8,1209.5 603.6,1209.4 609.3,1209.4 615,1209.4 620.8,1209.3 626.5,1209.3 632.3,1209.2 638,1209.2 643.7,1209.2 649.5,1209.1 655.2,1209.1 661,1209 666.7,1209 672.4,1209 678.2,1208.9 683.9,1208.9 689.7,1208.8 695.4,1208.8 701.1,1208.8 706.9,1208.8 712.6,1208.8 718.3,1208.9 724.1,1208.9 729.8,1208.9 735.6,1208.9 741.3,1208.9 747,1208.9 752.8,1208.9 758.5,1208.9 764.3,1209 770,1209 775.7,1209 781.5,1209 787.2,1209 793,1209 798.7,1209 804.4,1209.1 810.2,1209.1 815.9,1209.1 821.7,1209.1 827.4,1209.1 833.1,1209.1 838.9,1209.1 844.6,1209.1 850.3,1209.2 856.1,1209.2 861.8,1209.2 867.6,1209.2 873.3,1209.2 879,1209.2 884.8,1209.2 890.5,1209.2 896.3,1209.2 902,1209.2 907.7,1209.2 913.5,1209.2 919.2,1209.2 925,1209.2 930.7,1209.2 936.4,1209.2 942.2,1209.2 947.9,1209.2 953.7,1209.2 959.4,1209.2 965.1,1209.2 970.9,1209.2 976.6,1209.2 982.3,1209.2 988.1,1209.2 993.8,1209.2 999.6,1209.2 1005.3,1209.2 1011,1209.2 1016.8,1209.2 1022.5,1209.2 1028.3,1209.2 1034,1209.2 1039.7,1209.2 1045.5,1209.2 1051.2,1209.2 1057,1209.2 1062.7,1209.2 1068.4,1209.2 1074.2,1209.2 1079.9,1209.2 1085.7,1209.2 1091.4,1209.2 1097.1,1209.2 1102.9,1209.2 1108.6,1209.2 1114.3,1209.2 1120.1,1209.2 1125.8,1209.1 1131.6,1209.1 1137.3,1209.1 1143,1209.1 1148.8,1209.1 1154.5,1209.1 1160.3,1209.1 1166,1209.1 1171.7,1209.1 1177.5,1209.1 1183.2,1209.1 1189,1209.1 1194.7,1209.1 1200.4,1209.1 1206.2,1209.1 1211.9,1209.1 1217.7,1209.1 1223.4,1209.1 1229.1,1209.1 1234.9,1209.1 1240.6,1209.1 1246.3,1209.1 1252.1,1209.1 1257.8,1209.1 1263.6,1209.1 1269.3,1209.1 1275,1209.1 1280.8,1209.1 1286.5,1209.1 1292.3,1209.1 1298,1209.1 1303.7,1209.1 1309.5,1209.1 1315.2,1209.1 1321,1209.1 1326.7,1209.1 1332.4,1209.1 1338.2,1209.1 1343.9,1209.1 1349.7,1209.1 1355.4,1209.1 1361.1,1209.1 1366.9,1209.1 1372.6,1209.1 1378.3,1209.1 1384.1,1209.1 1389.8,1209.1 1395.6,1209.1 1401.3,1209.1 1407,1209.1 1412.8,1209.1 1418.5,1209.1 1424.3,1209.1 1430,1209.1 1435.7,1209.1 1441.5,1209.1 1447.2,1209.1 1453,1209.1 1458.7,1209.1 1464.4,1209.1 1470.2,1209.1 1475.9,1209.1 1481.7,1209.1 1487.4,1209.1 1493.1,1209.1 1498.9,1209.1 1504.6,1209.1 1510.3,1209.1 1516.1,1209.1 1521.8,1209.1 1527.6,1209 1533.3,1209 1539,1209 1544.8,1209 1550.5,1209 1556.3,1209 1562,1209 1567.7,1209 1573.5,1209 1579.2,1209 1585,1209 1590.7,1209 1596.4,1209 1602.2,1209 1607.9,1209 1613.7,1209 1619.4,1209 1625.1,1209 1630.9,1209 1636.6,1209 1642.3,1209 1648.1,1209 1653.8,1209 1659.6,1209 1665.3,1209 1671,1209 1676.8,1209 1682.5,1209 1688.3,1209 1694,1209 1699.7,1209 1705.5,1209 1711.2,1209 1717,1209 1722.7,1209 1728.4,1209 1734.2,1209 1739.9,1209 1745.7,1209 1751.4,1209 1757.1,1209 1762.9,1209 1768.6,1209 1774.3,1209 1780.1,1209 1785.8,1209 1791.6,1209 1797.3,1209 1803,1209 1808.8,1209 1814.5,1209 1820.3,1208.9 1826,1208.9 1831.7,1208.9 1837.5,1208.9 1843.2,1208.9 1849,1208.9 1854.7,1208.9 1860.4,1208.9 1866.2,1208.9 1871.9,1208.9 1877.7,1208.9 1883.4,1208.9 1889.1,1208.9 1894.9,1208.9 1900.6,1208.9 1906.3,1208.9 1912.1,1208.9 1917.8,1208.9 1923.6,1208.9 1929.3,1208.9 1935,1208.9 1940.8,1208.9 1946.5,1208.9 1952.3,1208.9 1958,1208.9" stroke="#00ff00" stroke-width="5" stroke-dasharray="5 11" shape-rendering="crispEdges"/>
<path d="M252 199.8h14.4v14.4h-14.4zM257.8 724.8h14.4v14.4h-14.4zM263.5 1047.5h14.4v14.4h-14.4zM269.2 1155.4h14.4v14.4h-14.4zM275 1180.8h14.4v14.4h-14.4zM280.7 1191.8h14.4v14.4h-14.4zM286.5 1197.3h14.4v14.4h-14.4zM292.2 1199h14.4v14.4h-14.4zM297.9 1200.8h14.4v14.4h-14.4zM303.7 1201.8h14.4v14.4h-14.4zM309.4 1202.8h14.4v14.4h-14.4zM315.1 1203h14.4v14.4h-14.4zM320.9 1203.2h14.4v14.4h-14.4zM326.6 1203.3h14.4v14.4h-14.4zM332.4 1203.5h14.4v14.4h-14.4zM338.1 1203.6h14.4v14.4h-14.4zM343.8 1203.6h14.4v14.4h-14.4zM349.6 1203.5h14.4v14.4h-14.4zM355.3 1203.5h14.4v14.4h-14.4zM361.1 1203.5h14.4v14.4h-14.4zM366.8 1203.5h14.4v14.4h-14.4zM372.5 1203.5h14.4v14.4h-14.4zM378.3 1203.4h14.4v14.4h-14.4zM384 1203.4h14.4v14.4h-14.4zM389.8 1203.4h14.4v14.4h-14.4zM395.5 1203.4h14.4v14.4h-14.4zM401.2 1203.4h14.4v14.4h-14.4zM407 1203.3h14.4v14.4h-14.4zM412.7 1203.3h14.4v14.4h-14.4zM418.5 1203.3h14.4v14.4h-14.4zM424.2 1203.2h14.4v14.4h-14.4zM429.9 1203.2h14.4v14.4h-14.4zM435.7 1203.2h14.4v14.4h-14.4zM441.4 1203.2h14.4v14.4h-14.4zM447.1 1203.1h14.4v14.4h-14.4zM452.9 1203.1h14.4v14.4h-14.4zM458.6 1203.1h14.4v14.4h-14.4zM464.4 1203.1h14.4v14.4h-14.4zM470.1 1203h14.4v14.4h-14.4zM475.8 1203h14.4v14.4h-14.4zM481.6 1203h14.4v14.4h-14.4zM487.3 1202.9h14.4v14.4h-14.4zM493.1 1202.9h14.4v14.4h-14.4zM498.8 1202.9h14.4v14.4h-14.4zM504.5 1202.9h14.4v14.4h-14.4zM510.3 1202.8h14.4v14.4h-14.4zM516 1202.8h14.4v14.4h-14.4zM521.8 1202.8h14.4v14.4h-14.4zM527.5 1202.7h14.4v14.4h-14.4zM533.2 1202.7h14.4v14.4h-14.4zM539 1202.6h14.4v14.4h-14.4zM544.7 1202.6h14.4v14.4h-14.4zM550.5 1202.6h14.4v14.4h-14.4zM556.2 1202.5h14.4v14.4h-14.4zM561.9 1202.5h14.4v14.4h-14.4zM567.7 1202.4h14.4v14.4h-14.4zM573.4 1202.4h14.4v14.4h-14.4zM579.1 1202.4h14.4v14.4h-14.4zM584.9 1202.3h14.4v14.4h-14.4zM590.6 1202.3h14.4v14.4h-14.4zM596.4 1202.2h14.4v14.4h-14.4zM602.1 1202.2h14.4v14.4h-14.4zM607.8 1202.2h14.4v14.4h-14.4zM613.6 1202.1h14.4v14.4h-14.4zM619.3 1202.1h14.4v14.4h-14.4zM625.1 1202h14.4v14.4h-14.4zM630.8 1202h14.4v14.4h-14.4zM636.5 1202h14.4v14.4h-14.4zM642.3 1201.9h14.4v14.4h-14.4zM648 1201.9h14.4v14.4h-14.4zM653.8 1201.8h14.4v14.4h-14.4zM659.5 1201.8h14.4v14.4h-14.4zM665.2 1201.8h14.4v14.4h-14.4zM671 1201.7h14.4v14.4h-14.4zM676.7 1201.7h14.4v14.4h-14.4zM682.5 1201.6h14.4v14.4h-14.4zM688.2 1201.6h14.4v14.4h-14.4zM693.9 1201.6h14.4v14.4h-14.4zM699.7 1201.6h14.4v14.4h-14.4zM705.4 1201.6h14.4v14.4h-14.4zM711.1 1201.7h14.4v14.4h-14.4zM716.9 1201.7h14.4v14.4h-14.4zM722.6 1201.7h14.4v14.4h-14.4zM728.4 1201.7h14.4v14.4h-14.4zM734.1 1201.7h14.4v14.4h-14.4zM739.8 1201.7h14.4v14.4h-14.4zM745.6 1201.7h14.4v14.4h-14.4zM751.3 1201.7h14.4v14.4h-14.4zM757.1 1201.8h14.4v14.4h-14.4zM762.8 1201.8h14.4v14.4h-14.4zM768.5 1201.8h14.4v14.4h-14.4zM774.3 1201.8h14.4v14.4h-14.4zM780 1201.8h14.4v14.4h-14.4zM785.8 1201.8h14.4v14.4h-14.4zM791.5 1201.8h14.4v14.4h-14.4zM797.2 1201.9h14.4v14.4h-14.4zM803 1201.9h14.4v14.4h-14.4zM808.7 1201.9h14.4v14.4h-14.4zM814.5 1201.9h14.4v14.4h-14.4zM820.2 1201.9h14.4v14.4h-14.4zM825.9 1201.9h14.4v14.4h-14.4zM831.7 1201.9h14.4v14.4h-14.4zM837.4 1201.9h14.4v14.4h-14.4zM843.1 1202h14.4v14.4h-14.4zM848.9 1202h14.4v14.4h-14.4zM854.6 1202h14.4v14.4h-14.4zM860.4 1202h14.4v14.4h-14.4zM866.1 1202h14.4v14.4h-14.4zM871.8 1202h14.4v14.4h-14.4zM877.6 1202h14.4v14.4h-14.4zM883.3 1202h14.4v14.4h-14.4zM889.1 1202h14.4v14.4h-14.4zM894.8 1202h14.4v14.4h-14.4zM900.5 1202h14.4v14.4h-14.4zM906.3 1202h14.4v14.4h-14.4zM912 1202h14.4v14.4h-14.4zM917.8 1202h14.4v14.4h-14.4zM923.5 1202h14.4v14.4h-14.4zM929.2 1202h14.4v14.4h-14.4zM935 1202h14.4v14.4h-14.4zM940.7 1202h14.4v14.4h-14.4zM946.5 1202h14.4v14.4h-14.4zM952.2 1202h14.4v14.4h-14.4zM957.9 1202h14.4v14.4h-14.4zM963.7 1202h14.4v14.4h-14.4zM969.4 1202h14.4v14.4h-14.4zM975.1 1202h14.4v14.4h-14.4zM980.9 1202h14.4v14.4h-14.4zM986.6 1202h14.4v14.4h-14.4zM992.4 1202h14.4v14.4h-14.4zM998.1 1202h14.4v14.4h-14.4zM1003.8 1202h14.4v14.4h-14.4zM1009.6 1202h14.4v14.4h-14.4zM1015.3 1202h14.4v14.4h-14.4zM1021.1 1202h14.4v14.4h-14.4zM1026.8 1202h14.4v14.4h-14.4zM1032.5 1202h14.4v14.4h-14.4zM1038.3 1202h14.4v14.4h-14.4zM1044 1202h14.4v14.4h-14.4zM1049.8 1202h14.4v14.4h-14.4zM1055.5 1202h14.4v14.4h-14.4zM1061.2 1202h14.4v14.4h-14.4zM1067 1202h14.4v14.4h-14.4zM1072.7 1202h14.4v14.4h-14.4zM1078.5 1202h14.4v14.4h-14.4zM1084.2 1202h14.4v14.4h-14.4zM1089.9 1202h14.4v14.4h-14.4zM1095.7 1202h14.4v14.4h-14.4zM1101.4 1202h14.4v14.4h-14.4zM1107.1 1202h14.4v14.4h-14.4zM1112.9 1202h14.4v14.4h-14.4zM1118.6 1201.9h14.4v14.4h-14.4zM1124.4 1201.9h14.4v14.4h-14.4zM1130.1 1201.9h14.4v14.4h-14.4zM1135.8 1201.9h14.4v14.4h-14.4zM1141.6 1201.9h14.4v14.4h-14.4zM1147.3 1201.9h14.4v14.4h-14.4zM1153.1 1201.9h14.4v14.4h-14.4zM1158.8 1201.9h14.4v14.4h-14.4zM1164.5 1201.9h14.4v14.4h-14.4zM1170.3 1201.9h14.4v14.4h-14.4zM1176 1201.9h14.4v14.4h-14.4zM1181.8 1201.9h14.4v14.4h-14.4zM1187.5 1201.9h14.4v14.4h-14.4zM1193.2 1201.9h14.4v14.4h-14.4zM1199 1201.9h14.4v14.4h-14.4zM1204.7 1201.9h14.4v14.4h-14.4zM1210.5 1201.9h14.4v14.4h-14.4zM1216.2 1201.9h14.4v14.4h-14.4zM1221.9 1201.9h14.4v14.4h-14.4zM1227.7 1201.9h14.4v14.4h-14.4zM1233.4 1201.9h14.4v14.4h-14.4zM1239.1 1201.9h14.4v14.4h-14.4zM1244.9 1201.9h14.4v14.4h-14.4zM1250.6 1201.9h14.4v14.4h-14.4zM1256.4 1201.9h14.4v14.4h-14.4zM1262.1 1201.9h14.4v14.4h-14.4zM1267.8 1201.9h14.4v14.4h-14.4zM1273.6 1201.9h14.4v14.4h-14.4zM1279.3 1201.9h14.4v14.4h-14.4zM1285.1 1201.9h14.4v14.4h-14.4zM1290.8 1201.9h14.4v14.4h-14.4zM1296.5 1201.9h14.4v14.4h-14.4zM1302.3 1201.9h14.4v14.4h-14.4zM1308 1201.9h14.4v14.4h-14.4zM1313.8 1201.9h14.4v14.4h-14.4zM1319.5 1201.9h14.4v14.4h-14.4zM1325.2 1201.9h14.4v14.4h-14.4zM1331 1201.9h14.4v14.4h-14.4zM1336.7 1201.9h14.4v14.4h-14.4zM1342.5 1201.9h14.4v14.4h-14.4zM1348.2 1201.9h14.4v14.4h-14.4zM1353.9 1201.9h14.4v14.4h-14.4zM1359.7 1201.9h14.4v14.4h-14.4zM1365.4 1201.9h14.4v14.4h-14.4zM1371.1 1201.9h14.4v14.4h-14.4zM1376.9 1201.9h14.4v14.4h-14.4zM1382.6 1201.9h14.4v14.4h-14.4zM1388.4 1201.9h14.4v14.4h-14.4zM1394.1 1201.9h14.4v14.4h-14.4zM1399.8 1201.9h14.4v14.4h-14.4zM1405.6 1201.9h14.4v14.4h-14.4zM1411.3 1201.9h14.4v14.4h-14.4zM1417.1 1201.9h14.4v14.4h-14.4zM1422.8 1201.9h14.4v14.4h-14.4zM1428.5 1201.9h14.4v14.4h-14.4zM1434.3 1201.9h14.4v14.4h-14.4zM1440 1201.9h14.4v14.4h-14.4zM1445.8 1201.9h14.4v14.4h-14.4zM1451.5 1201.9h14.4v14.4h-14.4zM1457.2 1201.9h14.4v14.4h-14.4zM1463 1201.9h14.4v14.4h-14.4zM1468.7 1201.9h14.4v14.4h-14.4zM1474.5 1201.9h14.4v14.4h-14.4zM1480.2 1201.9h14.4v14.4h-14.4zM1485.9 1201.9h14.4v14.4h-14.4zM1491.7 1201.9h14.4v14.4h-14.4zM1497.4 1201.9h14.4v14.4h-14.4zM1503.1 1201.9h14.4v14.4h-14.4zM1508.9 1201.9h14.4v14.4h-14.4zM1514.6 1201.9h14.4v14.4h-14.4zM1520.4 1201.8h14.4v14.4h-14.4zM1526.1 1201.8h14.4v14.4h-14.4zM1531.8 1201.8h14.4v14.4h-14.4zM1537.6 1201.8h14.4v14.4h-14.4zM1543.3 1201.8h14.4v14.4h-14.4zM1549.1 1201.8h14.4v14.4h-14.4zM1554.8 1201.8h14.4v14.4h-14.4zM1560.5 1201.8h14.4v14.4h-14.4zM1566.3 1201.8h14.4v14.4h-14.4zM1572 1201.8h14.4v14.4h-14.4zM1577.8 1201.8h14.4v14.4h-14.4zM1583.5 1201.8h14.4v14.4h-14.4zM1589.2 1201.8h14.4v14.4h-14.4zM1595 1201.8h14.4v14.4h-14.4zM1600.7 1201.8h14.4v14.4h-14.4zM1606.5 1201.8h14.4v14.4h-14.4zM1612.2 1201.8h14.4v14.4h-14.4zM1617.9 1201.8h14.4v14.4h-14.4zM1623.7 1201.8h14.4v14.4h-14.4zM1629.4 1201.8h14.4v14.4h-14.4zM1635.1 1201.8h14.4v14.4h-14.4zM1640.9 1201.8h14.4v14.4h-14.4zM1646.6 1201.8h14.4v14.4h-14.4zM1652.4 1201.8h14.4v14.4h-14.4zM1658.1 1201.8h14.4v14.4h-14.4zM1663.8 1201.8h14.4v14.4h-14.4zM1669.6 1201.8h14.4v14.4h-14.4zM1675.3 1201.8h14.4v14.4h-14.4zM1681.1 1201.8h14.4v14.4h-14.4zM1686.8 1201.8h14.4v14.4h-14.4zM1692.5 1201.8h14.4v14.4h-14.4zM1698.3 1201.8h14.4v14.4h-14.4zM1704 1201.8h14.4v14.4h-14.4zM1709.8 1201.8h14.4v14.4h-14.4zM1715.5 1201.8h14.4v14.4h-14.4zM1721.2 1201.8h14.4v14.4h-14.4zM1727 1201.8h14.4v14.4h-14.4zM1732.7 1201.8h14.4v14.4h-14.4zM1738.5 1201.8h14.4v14.4h-14.4zM1744.2 1201.8h14.4v14.4h-14.4zM1749.9 1201.8h14.4v14.4h-14.4zM1755.7 1201.8h14.4v14.4h-14.4zM1761.4 1201.8h14.4v14.4h-14.4zM1767.1 1201.8h14.4v14.4h-14.4zM1772.9 1201.8h14.4v14.4h-14.4zM1778.6 1201.8h14.4v14.4h-14.4zM1784.4 1201.8h14.4v14.4h-14.4zM1790.1 1201.8h14.4v14.4h-14.4zM1795.8 1201.8h14.4v14.4h-14.4zM1801.6 1201.8h14.4v14.4h-14.4zM1807.3 1201.8h14.4v14.4h-14.4zM1813.1 1201.7h14.4v14.4h-14.4zM1818.8 1201.7h14.4v14.4h-14.4zM1824.5 1201.7h14.4v14.4h-14.4zM1830.3 1201.7h14.4v14.4h-14.4zM1836 1201.7h14.4v14.4h-14.4zM1841.8 1201.7h14.4v14.4h-14.4zM1847.5 1201.7h14.4v14.4h-14.4zM1853.2 1201.7h14.4v14.4h-14.4zM1859 1201.7h14.4v14.4h-14.4zM1864.7 1201.7h14.4v14.4h-14.4zM1870.5 1201.7h14.4v14.4h-14.4zM1876.2 1201.7h14.4v14.4h-14.4zM1881.9 1201.7h14.4v14.4h-14.4zM1887.7 1201.7h14.4v14.4h-14.4zM1893.4 1201.7h14.4v14.4h-14.4zM1899.1 1201.7h14.4v14.4h-14.4zM1904.9 1201.7h14.4v14.4h-14.4zM1910.6 1201.7h14.4v14.4h-14.4zM1916.4 1201.7h14.4v14.4h-14.4zM1922.1 1201.7h14.4v14.4h-14.4zM1927.8 1201.7h14.4v14.4h-14.4zM1933.6 1201.7h14.4v14.4h-14.4zM1939.3 1201.7h14.4v14.4h-14.4zM1945.1 1201.7h14.4v14.4h-14.4zM1950.8 1201.7h14.4v14.4h-14.4z" fill="#00ff00" stroke="none" shape-rendering="crispEdges"/>
<path d="M264.2 731.2h1.6v1.6h-1.6zM269.9 1053.9h1.6v1.6h-1.6zM275.6 1161.8h1.6v1.6h-1.6zM281.4 1187.2h1.6v1.6h-1.6z" fill="#ff0000" stroke="none"/>
<path d="M258.4 206.2h1.6v1.6h-1.6z" fill="#ffffff" stroke="none"/>
</g>
<g id="gs-irl">
<polyline points="270.1,25 270.7,64.3 276.4,368.5 282.2,640.4 287.9,866 293.7,1022 299.4,1111 305.1,1153 310.9,1172 316.6,1180 322.3,1181.8 328.1,1183.5 333.8,1184 339.6,1184.5 345.3,1185 351,1185.4 356.8,1185.7 362.5,1186.1 368.3,1186.5 374,1186.8 379.7,1187.2 385.5,1187.6 391.2,1187.9 397,1188.3 402.7,1188.7 408.4,1189.1 414.2,1189.5 419.9,1190 425.7,1190.4 431.4,1190.8 437.1,1191.2 442.9,1191.6 448.6,1192.1 454.3,1192.5 460.1,1192.9 465.8,1193.3 471.6,1193.7 477.3,1194.2 483,1194.6 488.8,1195 494.5,1195.4 500.3,1195.8 506,1196.2 511.7,1196.7 517.5,1197.1 523.2,1197.5 529,1197.8 534.7,1198.1 540.4,1198.3 546.2,1198.6 551.9,1198.9 557.7,1199.2 563.4,1199.4 569.1,1199.7 574.9,1200 580.6,1200.3 586.3,1200.5 592.1,1200.8 597.8,1201.1 603.6,1201.4 609.3,1201.6 615,1201.9 620.8,1202.2 626.5,1202.5 632.3,1202.7 638,1203 643.7,1203.3 649.5,1203.6 655.2,1203.8 661,1204.1 666.7,1204.4 672.4,1204.7 678.2,1204.9 683.9,1205.2 689.7,1205.5 695.4,1205.7 701.1,1205.9 706.9,1206.1 712.6,1206.2 718.3,1206.4 724.1,1206.5 729.8,1206.7 735.6,1206.9 741.3,1207 747,1207.2 752.8,1207.4 758.5,1207.5 764.3,1207.7 770,1207.9 775.7,1208 781.5,1208.2 787.2,1208.3 793,1208.5 798.7,1208.7 804.4,1208.8 810.2,1209 815.9,1209.1 821.7,1209.1 827.4,1209.2 833.1,1209.3 838.9,1209.3 844.6,1209.4 850.3,1209.5 856.1,1209.5 861.8,1209.6 867.6,1209.6 873.3,1209.7 879,1209.8 884.8,1209.8 890.5,1209.9 896.3,1210 902,1210 907.7,1210.1 913.5,1210.2 919.2,1210.2 925,1210.3 930.7,1210.4 936.4,1210.4 942.2,1210.5 947.9,1210.5 953.7,1210.6 959.4,1210.7 965.1,1210.7 970.9,1210.8 976.6,1210.9 982.3,1210.9 988.1,1211 993.8,1211 999.6,1211.1 1005.3,1211.1 1011,1211.2 1016.8,1211.2 1022.5,1211.3 1028.3,1211.3 1034,1211.4 1039.7,1211.4 1045.5,1211.5 1051.2,1211.5 1057,1211.6 1062.7,1211.6 1068.4,1211.7 1074.2,1211.7 1079.9,1211.8 1085.7,1211.8 1091.4,1211.8 1097.1,1211.9 1102.9,1211.9 1108.6,1212 1114.3,1212 1120.1,1212.1 1125.8,1212.1 1131.6,1212.2 1137.3,1212.2 1143,1212.2 1148.8,1212.3 1154.5,1212.3 1160.3,1212.4 1166,1212.4 1171.7,1212.5 1177.5,1212.5 1183.2,1212.6 1189,1212.6 1194.7,1212.6 1200.4,1212.7 1206.2,1212.7 1211.9,1212.8 1217.7,1212.8 1223.4,1212.9 1229.1,1212.9 1234.9,1213 1240.6,1213 1246.3,1213 1252.1,1213 1257.8,1213 1263.6,1213 1269.3,1213 1275,1213 1280.8,1213 1286.5,1213 1292.3,1213 1298,1213 1303.7,1213 1309.5,1213 1315.2,1213 1321,1213 1326.7,1213 1332.4,1213 1338.2,1213 1343.9,1213 1349.7,1213 1355.4,1213 1361.1,1213 1366.9,1213 1372.6,1213 1378.3,1213 1384.1,1213 1389.8,1213 1395.6,1213 1401.3,1213 1407,1213 1412.8,1213 1418.5,1213 1424.3,1213 1430,1213 1435.7,1213 1441.5,1213 1447.2,1213 1453,1213 1458.7,1213 1464.4,1213 1470.2,1213 1475.9,1213 1481.7,1213 1487.4,1213 1493.1,1213 1498.9,1213 1504.6,1213 1510.3,1213 1516.1,1213 1521.8,1213 1527.6,1213 1533.3,1213 1539,1213 1544.8,1213 1550.5,1213 1556.3,1213 1562,1213 1567.7,1213 1573.5,1213 1579.2,1213 1585,1213 1590.7,1213 1596.4,1213 1602.2,1213 1607.9,1213 1613.7,1213 1619.4,1213 1625.1,1213 1630.9,1213 1636.6,1213 1642.3,1213 1648.1,1213 1653.8,1213 1659.6,1213 1665.3,1213 1671,1213 1676.8,1213 1682.5,1213 1688.3,1213 1694,1213 1699.7,1213 1705.5,1213 1711.2,1213 1717,1213 1722.7,1213 1728.4,1213 1734.2,1213 1739.9,1213 1745.7,1213 1751.4,1213 1757.1,1213 1762.9,1213 1768.6,1213 1774.3,1213 1780.1,1213 1785.8,1213 1791.6,1213 1797.3,1213 1803,1213 1808.8,1213 1814.5,1213 1820.3,1213 1826,1213 1831.7,1213 1837.5,1213 1843.2,1213 1849,1213 1854.7,1213 1860.4,1213 1866.2,1213 1871.9,1213 1877.7,1213 1883.4,1213 1889.1,1213 1894.9,1213 1900.6,1213 1906.3,1213 1912.1,1213 1917.8,1213 1923.6,1213 1929.3,1213 1935,1213 1940.8,1213 1946.5,1213 1952.3,1213 1958,1213" stroke="#00ffff" stroke-width="5" stroke-dasharray="5 11" shape-rendering="crispEdges"/>
<path d="M263.5 57.1h14.4v14.4h-14.4zM269.2 361.3h14.4v14.4h-14.4zM275 633.2h14.4v14.4h-14.4zM280.7 858.8h14.4v14.4h-14.4zM286.5 1014.8h14.4v14.4h-14.4zM292.2 1103.8h14.4v14.4h-14.4zM297.9 1145.8h14.4v14.4h-14.4zM303.7 1164.8h14.4v14.4h-14.4zM309.4 1172.8h14.4v14.4h-14.4zM315.1 1174.5h14.4v14.4h-14.4zM320.9 1176.3h14.4v14.4h-14.4zM326.6 1176.8h14.4v14.4h-14.4zM332.4 1177.3h14.4v14.4h-14.4zM338.1 1177.8h14.4v14.4h-14.4zM343.8 1178.2h14.4v14.4h-14.4zM349.6 1178.5h14.4v14.4h-14.4zM355.3 1178.9h14.4v14.4h-14.4zM361.1 1179.3h14.4v14.4h-14.4zM366.8 1179.6h14.4v14.4h-14.4zM372.5 1180h14.4v14.4h-14.4zM378.3 1180.4h14.4v14.4h-14.4zM384 1180.7h14.4v14.4h-14.4zM389.8 1181.1h14.4v14.4h-14.4zM395.5 1181.5h14.4v14.4h-14.4zM401.2 1181.9h14.4v14.4h-14.4zM407 1182.3h14.4v14.4h-14.4zM412.7 1182.8h14.4v14.4h-14.4zM418.5 1183.2h14.4v14.4h-14.4zM424.2 1183.6h14.4v14.4h-14.4zM429.9 1184h14.4v14.4h-14.4zM435.7 1184.4h14.4v14.4h-14.4zM441.4 1184.9h14.4v14.4h-14.4zM447.1 1185.3h14.4v14.4h-14.4zM452.9 1185.7h14.4v14.4h-14.4zM458.6 1186.1h14.4v14.4h-14.4zM464.4 1186.5h14.4v14.4h-14.4zM470.1 1187h14.4v14.4h-14.4zM475.8 1187.4h14.4v14.4h-14.4zM481.6 1187.8h14.4v14.4h-14.4zM487.3 1188.2h14.4v14.4h-14.4zM493.1 1188.6h14.4v14.4h-14.4zM498.8 1189h14.4v14.4h-14.4zM504.5 1189.5h14.4v14.4h-14.4zM510.3 1189.9h14.4v14.4h-14.4zM516 1190.3h14.4v14.4h-14.4zM521.8 1190.6h14.4v14.4h-14.4zM527.5 1190.9h14.4v14.4h-14.4zM533.2 1191.1h14.4v14.4h-14.4zM539 1191.4h14.4v14.4h-14.4zM544.7 1191.7h14.4v14.4h-14.4zM550.5 1192h14.4v14.4h-14.4zM556.2 1192.2h14.4v14.4h-14.4zM561.9 1192.5h14.4v14.4h-14.4zM567.7 1192.8h14.4v14.4h-14.4zM573.4 1193.1h14.4v14.4h-14.4zM579.1 1193.3h14.4v14.4h-14.4zM584.9 1193.6h14.4v14.4h-14.4zM590.6 1193.9h14.4v14.4h-14.4zM596.4 1194.2h14.4v14.4h-14.4zM602.1 1194.4h14.4v14.4h-14.4zM607.8 1194.7h14.4v14.4h-14.4zM613.6 1195h14.4v14.4h-14.4zM619.3 1195.3h14.4v14.4h-14.4zM625.1 1195.5h14.4v14.4h-14.4zM630.8 1195.8h14.4v14.4h-14.4zM636.5 1196.1h14.4v14.4h-14.4zM642.3 1196.4h14.4v14.4h-14.4zM648 1196.6h14.4v14.4h-14.4zM653.8 1196.9h14.4v14.4h-14.4zM659.5 1197.2h14.4v14.4h-14.4zM665.2 1197.5h14.4v14.4h-14.4zM671 1197.7h14.4v14.4h-14.4zM676.7 1198h14.4v14.4h-14.4zM682.5 1198.3h14.4v14.4h-14.4zM688.2 1198.5h14.4v14.4h-14.4zM693.9 1198.7h14.4v14.4h-14.4zM699.7 1198.9h14.4v14.4h-14.4zM705.4 1199h14.4v14.4h-14.4zM711.1 1199.2h14.4v14.4h-14.4zM716.9 1199.3h14.4v14.4h-14.4zM722.6 1199.5h14.4v14.4h-14.4zM728.4 1199.7h14.4v14.4h-14.4zM734.1 1199.8h14.4v14.4h-14.4zM739.8 1200h14.4v14.4h-14.4zM745.6 1200.2h14.4v14.4h-14.4zM751.3 1200.3h14.4v14.4h-14.4zM757.1 1200.5h14.4v14.4h-14.4zM762.8 1200.7h14.4v14.4h-14.4zM768.5 1200.8h14.4v14.4h-14.4zM774.3 1201h14.4v14.4h-14.4zM780 1201.1h14.4v14.4h-14.4zM785.8 1201.3h14.4v14.4h-14.4zM791.5 1201.5h14.4v14.4h-14.4zM797.2 1201.6h14.4v14.4h-14.4zM803 1201.8h14.4v14.4h-14.4zM808.7 1201.9h14.4v14.4h-14.4zM814.5 1201.9h14.4v14.4h-14.4zM820.2 1202h14.4v14.4h-14.4zM825.9 1202.1h14.4v14.4h-14.4zM831.7 1202.1h14.4v14.4h-14.4zM837.4 1202.2h14.4v14.4h-14.4zM843.1 1202.3h14.4v14.4h-14.4zM848.9 1202.3h14.4v14.4h-14.4zM854.6 1202.4h14.4v14.4h-14.4zM860.4 1202.4h14.4v14.4h-14.4zM866.1 1202.5h14.4v14.4h-14.4zM871.8 1202.6h14.4v14.4h-14.4zM877.6 1202.6h14.4v14.4h-14.4zM883.3 1202.7h14.4v14.4h-14.4zM889.1 1202.8h14.4v14.4h-14.4zM894.8 1202.8h14.4v14.4h-14.4zM900.5 1202.9h14.4v14.4h-14.4zM906.3 1203h14.4v14.4h-14.4zM912 1203h14.4v14.4h-14.4zM917.8 1203.1h14.4v14.4h-14.4zM923.5 1203.2h14.4v14.4h-14.4zM929.2 1203.2h14.4v14.4h-14.4zM935 1203.3h14.4v14.4h-14.4zM940.7 1203.3h14.4v14.4h-14.4zM946.5 1203.4h14.4v14.4h-14.4zM952.2 1203.5h14.4v14.4h-14.4zM957.9 1203.5h14.4v14.4h-14.4zM963.7 1203.6h14.4v14.4h-14.4zM969.4 1203.7h14.4v14.4h-14.4zM975.1 1203.7h14.4v14.4h-14.4zM980.9 1203.8h14.4v14.4h-14.4zM986.6 1203.8h14.4v14.4h-14.4zM992.4 1203.9h14.4v14.4h-14.4zM998.1 1203.9h14.4v14.4h-14.4zM1003.8 1204h14.4v14.4h-14.4zM1009.6 1204h14.4v14.4h-14.4zM1015.3 1204.1h14.4v14.4h-14.4zM1021.1 1204.1h14.4v14.4h-14.4zM1026.8 1204.2h14.4v14.4h-14.4zM1032.5 1204.2h14.4v14.4h-14.4zM1038.3 1204.3h14.4v14.4h-14.4zM1044 1204.3h14.4v14.4h-14.4zM1049.8 1204.4h14.4v14.4h-14.4zM1055.5 1204.4h14.4v14.4h-14.4zM1061.2 1204.5h14.4v14.4h-14.4zM1067 1204.5h14.4v14.4h-14.4zM1072.7 1204.6h14.4v14.4h-14.4zM1078.5 1204.6h14.4v14.4h-14.4zM1084.2 1204.6h14.4v14.4h-14.4zM1089.9 1204.7h14.4v14.4h-14.4zM1095.7 1204.7h14.4v14.4h-14.4zM1101.4 1204.8h14.4v14.4h-14.4zM1107.1 1204.8h14.4v14.4h-14.4zM1112.9 1204.9h14.4v14.4h-14.4zM1118.6 1204.9h14.4v14.4h-14.4zM1124.4 1205h14.4v14.4h-14.4zM1130.1 1205h14.4v14.4h-14.4zM1135.8 1205h14.4v14.4h-14.4zM1141.6 1205.1h14.4v14.4h-14.4zM1147.3 1205.1h14.4v14.4h-14.4zM1153.1 1205.2h14.4v14.4h-14.4zM1158.8 1205.2h14.4v14.4h-14.4zM1164.5 1205.3h14.4v14.4h-14.4zM1170.3 1205.3h14.4v14.4h-14.4zM1176 1205.4h14.4v14.4h-14.4zM1181.8 1205.4h14.4v14.4h-14.4zM1187.5 1205.4h14.4v14.4h-14.4zM1193.2 1205.5h14.4v14.4h-14.4zM1199 1205.5h14.4v14.4h-14.4zM1204.7 1205.6h14.4v14.4h-14.4zM1210.5 1205.6h14.4v14.4h-14.4zM1216.2 1205.7h14.4v14.4h-14.4zM1221.9 1205.7h14.4v14.4h-14.4zM1227.7 1205.8h14.4v14.4h-14.4zM1233.4 1205.8h14.4v14.4h-14.4zM1239.1 1205.8h14.4v14.4h-14.4zM1244.9 1205.8h14.4v14.4h-14.4zM1250.6 1205.8h14.4v14.4h-14.4zM1256.4 1205.8h14.4v14.4h-14.4zM1262.1 1205.8h14.4v14.4h-14.4zM1267.8 1205.8h14.4v14.4h-14.4zM1273.6 1205.8h14.4v14.4h-14.4zM1279.3 1205.8h14.4v14.4h-14.4zM1285.1 1205.8h14.4v14.4h-14.4zM1290.8 1205.8h14.4v14.4h-14.4zM1296.5 1205.8h14.4v14.4h-14.4zM1302.3 1205.8h14.4v14.4h-14.4zM1308 1205.8h14.4v14.4h-14.4zM1313.8 1205.8h14.4v14.4h-14.4zM1319.5 1205.8h14.4v14.4h-14.4zM1325.2 1205.8h14.4v14.4h-14.4zM1331 1205.8h14.4v14.4h-14.4zM1336.7 1205.8h14.4v14.4h-14.4zM1342.5 1205.8h14.4v14.4h-14.4zM1348.2 1205.8h14.4v14.4h-14.4zM1353.9 1205.8h14.4v14.4h-14.4zM1359.7 1205.8h14.4v14.4h-14.4zM1365.4 1205.8h14.4v14.4h-14.4zM1371.1 1205.8h14.4v14.4h-14.4zM1376.9 1205.8h14.4v14.4h-14.4zM1382.6 1205.8h14.4v14.4h-14.4zM1388.4 1205.8h14.4v14.4h-14.4zM1394.1 1205.8h14.4v14.4h-14.4zM1399.8 1205.8h14.4v14.4h-14.4zM1405.6 1205.8h14.4v14.4h-14.4zM1411.3 1205.8h14.4v14.4h-14.4zM1417.1 1205.8h14.4v14.4h-14.4zM1422.8 1205.8h14.4v14.4h-14.4zM1428.5 1205.8h14.4v14.4h-14.4zM1434.3 1205.8h14.4v14.4h-14.4zM1440 1205.8h14.4v14.4h-14.4zM1445.8 1205.8h14.4v14.4h-14.4zM1451.5 1205.8h14.4v14.4h-14.4zM1457.2 1205.8h14.4v14.4h-14.4zM1463 1205.8h14.4v14.4h-14.4zM1468.7 1205.8h14.4v14.4h-14.4zM1474.5 1205.8h14.4v14.4h-14.4zM1480.2 1205.8h14.4v14.4h-14.4zM1485.9 1205.8h14.4v14.4h-14.4zM1491.7 1205.8h14.4v14.4h-14.4zM1497.4 1205.8h14.4v14.4h-14.4zM1503.1 1205.8h14.4v14.4h-14.4zM1508.9 1205.8h14.4v14.4h-14.4zM1514.6 1205.8h14.4v14.4h-14.4zM1520.4 1205.8h14.4v14.4h-14.4zM1526.1 1205.8h14.4v14.4h-14.4zM1531.8 1205.8h14.4v14.4h-14.4zM1537.6 1205.8h14.4v14.4h-14.4zM1543.3 1205.8h14.4v14.4h-14.4zM1549.1 1205.8h14.4v14.4h-14.4zM1554.8 1205.8h14.4v14.4h-14.4zM1560.5 1205.8h14.4v14.4h-14.4zM1566.3 1205.8h14.4v14.4h-14.4zM1572 1205.8h14.4v14.4h-14.4zM1577.8 1205.8h14.4v14.4h-14.4zM1583.5 1205.8h14.4v14.4h-14.4zM1589.2 1205.8h14.4v14.4h-14.4zM1595 1205.8h14.4v14.4h-14.4zM1600.7 1205.8h14.4v14.4h-14.4zM1606.5 1205.8h14.4v14.4h-14.4zM1612.2 1205.8h14.4v14.4h-14.4zM1617.9 1205.8h14.4v14.4h-14.4zM1623.7 1205.8h14.4v14.4h-14.4zM1629.4 1205.8h14.4v14.4h-14.4zM1635.1 1205.8h14.4v14.4h-14.4zM1640.9 1205.8h14.4v14.4h-14.4zM1646.6 1205.8h14.4v14.4h-14.4zM1652.4 1205.8h14.4v14.4h-14.4zM1658.1 1205.8h14.4v14.4h-14.4zM1663.8 1205.8h14.4v14.4h-14.4zM1669.6 1205.8h14.4v14.4h-14.4zM1675.3 1205.8h14.4v14.4h-14.4zM1681.1 1205.8h14.4v14.4h-14.4zM1686.8 1205.8h14.4v14.4h-14.4zM1692.5 1205.8h14.4v14.4h-14.4zM1698.3 1205.8h14.4v14.4h-14.4zM1704 1205.8h14.4v14.4h-14.4zM1709.8 1205.8h14.4v14.4h-14.4zM1715.5 1205.8h14.4v14.4h-14.4zM1721.2 1205.8h14.4v14.4h-14.4zM1727 1205.8h14.4v14.4h-14.4zM1732.7 1205.8h14.4v14.4h-14.4zM1738.5 1205.8h14.4v14.4h-14.4zM1744.2 1205.8h14.4v14.4h-14.4zM1749.9 1205.8h14.4v14.4h-14.4zM1755.7 1205.8h14.4v14.4h-14.4zM1761.4 1205.8h14.4v14.4h-14.4zM1767.1 1205.8h14.4v14.4h-14.4zM1772.9 1205.8h14.4v14.4h-14.4zM1778.6 1205.8h14.4v14.4h-14.4zM1784.4 1205.8h14.4v14.4h-14.4zM1790.1 1205.8h14.4v14.4h-14.4zM1795.8 1205.8h14.4v14.4h-14.4zM1801.6 1205.8h14.4v14.4h-14.4zM1807.3 1205.8h14.4v14.4h-14.4zM1813.1 1205.8h14.4v14.4h-14.4zM1818.8 1205.8h14.4v14.4h-14.4zM1824.5 1205.8h14.4v14.4h-14.4zM1830.3 1205.8h14.4v14.4h-14.4zM1836 1205.8h14.4v14.4h-14.4zM1841.8 1205.8h14.4v14.4h-14.4zM1847.5 1205.8h14.4v14.4h-14.4zM1853.2 1205.8h14.4v14.4h-14.4zM1859 1205.8h14.4v14.4h-14.4zM1864.7 1205.8h14.4v14.4h-14.4zM1870.5 1205.8h14.4v14.4h-14.4zM1876.2 1205.8h14.4v14.4h-14.4zM1881.9 1205.8h14.4v14.4h-14.4zM1887.7 1205.8h14.4v14.4h-14.4zM1893.4 1205.8h14.4v14.4h-14.4zM1899.1 1205.8h14.4v14.4h-14.4zM1904.9 1205.8h14.4v14.4h-14.4zM1910.6 1205.8h14.4v14.4h-14.4zM1916.4 1205.8h14.4v14.4h-14.4zM1922.1 1205.8h14.4v14.4h-14.4zM1927.8 1205.8h14.4v14.4h-14.4zM1933.6 1205.8h14.4v14.4h-14.4zM1939.3 1205.8h14.4v14.4h-14.4zM1945.1 1205.8h14.4v14.4h-14.4zM1950.8 1205.8h14.4v14.4h-14.4z" fill="#00ffff" stroke="none" shape-rendering="crispEdges"/>
<path d="M269.9 63.5h1.6v1.6h-1.6zM275.6 367.7h1.6v1.6h-1.6zM287.1 865.2h1.6v1.6h-1.6zM298.6 1110.2h1.6v1.6h-1.6zM310.1 1171.2h1.6v1.6h-1.6zM315.8 1179.2h1.6v1.6h-1.6z" fill="#0000ff" stroke="none"/>
<path d="M281.4 639.6h1.6v1.6h-1.6zM292.9 1021.2h1.6v1.6h-1.6zM304.3 1152.2h1.6v1.6h-1.6z" fill="#ffffff" stroke="none"/>
</g>
</g>
<g id="axes" fill="#262626" shape-rendering="crispEdges">
<rect x="240" y="23" width="1720" height="4"/>
<rect x="240" y="1379" width="1720" height="4"/>
<rect x="240" y="23" width="4" height="1360"/>
<rect x="1956" y="23" width="4" height="1360"/>
<rect x="522" y="1362" width="3" height="17"/>
<rect x="522" y="27" width="3" height="17"/>
<rect x="809" y="1362" width="3" height="17"/>
<rect x="809" y="27" width="3" height="17"/>
<rect x="1096" y="1362" width="3" height="17"/>
<rect x="1096" y="27" width="3" height="17"/>
<rect x="1383" y="1362" width="3" height="17"/>
<rect x="1383" y="27" width="3" height="17"/>
<rect x="1670" y="1362" width="3" height="17"/>
<rect x="1670" y="27" width="3" height="17"/>
<rect x="244" y="1084" width="17" height="4"/>
<rect x="1939" y="1084" width="17" height="4"/>
<rect x="244" y="790" width="17" height="4"/>
<rect x="1939" y="790" width="17" height="4"/>
<rect x="244" y="495" width="17" height="4"/>
<rect x="1939" y="495" width="17" height="4"/>
<rect x="244" y="200" width="17" height="4"/>
<rect x="1939" y="200" width="17" height="4"/>
</g>
<g id="ticklabels" font-size="64">
<text x="524.2" y="1463" text-anchor="middle">50</text>
<text x="811.2" y="1463" text-anchor="middle">100</text>
<text x="1098.1" y="1463" text-anchor="middle">150</text>
<text x="1385.1" y="1463" text-anchor="middle">200</text>
<text x="1672" y="1463" text-anchor="middle">250</text>
<text x="1959" y="1463" text-anchor="middle">300</text>
<text x="216.8" y="1401.2" text-anchor="end">23</text>
<text x="216.8" y="1106.5" text-anchor="end">23.5</text>
<text x="216.8" y="811.7" text-anchor="end">24</text>
<text x="216.8" y="517" text-anchor="end">24.5</text>
<text x="216.8" y="222.2" text-anchor="end">25</text>
</g>
<text id="xlabel" x="1099" y="1549.5" font-size="70" text-anchor="middle">Numbers of iterations</text>
<text id="ylabel" transform="translate(76.5,707) rotate(-90)" font-size="70" text-anchor="middle">Value of cost function (dB)</text>
<g id="inset">
<rect x="495" y="50" width="718" height="567.6" fill="#ffffff"/>
<g stroke="#f2f2f2" stroke-width="2.6" stroke-dasharray="3 6">
<line x1="527.7" y1="50" x2="527.7" y2="617.6"/>
<line x1="609.1" y1="50" x2="609.1" y2="617.6"/>
<line x1="649.8" y1="50" x2="649.8" y2="617.6"/>
<line x1="690.6" y1="50" x2="690.6" y2="617.6"/>
<line x1="731.3" y1="50" x2="731.3" y2="617.6"/>
<line x1="812.7" y1="50" x2="812.7" y2="617.6"/>
<line x1="853.4" y1="50" x2="853.4" y2="617.6"/>
<line x1="894.2" y1="50" x2="894.2" y2="617.6"/>
<line x1="934.9" y1="50" x2="934.9" y2="617.6"/>
<line x1="1016.3" y1="50" x2="1016.3" y2="617.6"/>
<line x1="1057" y1="50" x2="1057" y2="617.6"/>
<line x1="1097.8" y1="50" x2="1097.8" y2="617.6"/>
<line x1="1138.5" y1="50" x2="1138.5" y2="617.6"/>
<line x1="495" y1="68.2" x2="1213" y2="68.2"/>
<line x1="495" y1="89" x2="1213" y2="89"/>
<line x1="495" y1="109.7" x2="1213" y2="109.7"/>
<line x1="495" y1="130.5" x2="1213" y2="130.5"/>
<line x1="495" y1="172.1" x2="1213" y2="172.1"/>
<line x1="495" y1="192.9" x2="1213" y2="192.9"/>
<line x1="495" y1="213.6" x2="1213" y2="213.6"/>
<line x1="495" y1="234.4" x2="1213" y2="234.4"/>
<line x1="495" y1="276" x2="1213" y2="276"/>
<line x1="495" y1="296.8" x2="1213" y2="296.8"/>
<line x1="495" y1="317.5" x2="1213" y2="317.5"/>
<line x1="495" y1="338.3" x2="1213" y2="338.3"/>
<line x1="495" y1="379.9" x2="1213" y2="379.9"/>
<line x1="495" y1="400.7" x2="1213" y2="400.7"/>
<line x1="495" y1="421.4" x2="1213" y2="421.4"/>
<line x1="495" y1="442.2" x2="1213" y2="442.2"/>
<line x1="495" y1="483.8" x2="1213" y2="483.8"/>
<line x1="495" y1="504.6" x2="1213" y2="504.6"/>
<line x1="495" y1="525.3" x2="1213" y2="525.3"/>
<line x1="495" y1="546.1" x2="1213" y2="546.1"/>
<line x1="495" y1="587.7" x2="1213" y2="587.7"/>
<line x1="495" y1="608.5" x2="1213" y2="608.5"/>
</g>
<g stroke="#ebebeb" stroke-width="3">
<line x1="568.4" y1="50" x2="568.4" y2="617.6"/>
<line x1="772" y1="50" x2="772" y2="617.6"/>
<line x1="975.6" y1="50" x2="975.6" y2="617.6"/>
<line x1="1179.2" y1="50" x2="1179.2" y2="617.6"/>
<line x1="495" y1="151.3" x2="1213" y2="151.3"/>
<line x1="495" y1="255.3" x2="1213" y2="255.3"/>
<line x1="495" y1="359.2" x2="1213" y2="359.2"/>
<line x1="495" y1="463" x2="1213" y2="463"/>
<line x1="495" y1="567" x2="1213" y2="567"/>
</g>
<g clip-path="url(#inclip)"><g fill="none" stroke-width="2.7" filter="url(#soft)">
<polyline points="925,44 929,49.1 933,54.1 937,59.3 941,64.4 945,69.6 949,74.8 953,80 957,85.2 961,90.3 965,95.3 969,100.3 973,105.1 977,109.9 981,114.4 985,118.9 989,123.1 993,127.3 997,131.5 1001,135.6 1005,139.6 1009,143.5 1013,147.4 1017,151.2 1021,155 1025,158.6 1029,162.2 1033,165.8 1037,169.2 1041,172.6 1045,176 1049,179.2 1053,182.4 1057,185.5 1061,188.5 1065,191.5 1069,194.4 1073,197.2 1077,200 1081,202.7 1085,205.4 1089,208 1093,210.5 1097,213.1 1101,215.5 1105,218 1109,220.3 1113,222.7 1117,225 1121,227.2 1125,229.5 1129,231.6 1133,233.7 1137,235.8 1141,237.9 1145,239.9 1149,241.8 1153,243.7 1157,245.6 1161,247.5 1165,249.4 1169,251.2 1173,253 1177,254.8 1181,256.5 1185,258.3 1189,259.9 1193,261.6 1197,263.2 1201,264.8 1205,266.3 1209,267.8" stroke="#7a7a7a" stroke-width="2.4"/>
<polyline points="640,40 644,48.1 648,53.7 652,58.1 656,62 660,65.6 664,68.8 668,71.8 672,74.5 676,77 680,79.3 684,81.5 688,83.6 692,85.5 696,87.4 700,89.2 704,90.9 708,92.5 712,94 716,95.4 720,96.7 724,98 728,99.1 732,100.2 736,101.3 740,102.3 744,103.2 748,104.1 752,105 756,105.8 760,106.6 764,107.3 768,108 772,108.7 776,109.3 780,109.9 784,110.6 788,111.1 792,111.7 796,112.3 800,112.8 804,113.3 808,113.7 812,114.2 816,114.6 820,115 824,115.4 828,115.7 832,116.1 836,116.4 840,116.7 844,117 848,117.3 852,117.5 856,117.8 860,118 864,118.3 868,118.5 872,118.7 876,118.9 880,119.1 884,119.3 888,119.5 892,119.7 896,119.9 900,120 904,120.2 908,120.3 912,120.5 916,120.6 920,120.7 924,120.9 928,121 932,121 936,121.1 940,121.2 944,121.3 948,121.4 952,121.4 956,121.5 960,121.6 964,121.6 968,121.7 972,121.8 976,121.8 980,121.9 984,121.9 988,121.9 992,122 996,122 1000,122 1004,122 1008,122 1012,122 1016,122 1020,122.1 1024,122.1 1028,122.1 1032,122.1 1036,122.1 1040,122.1 1044,122.1 1048,122.1 1052,122.1 1056,122.1 1060,122.2 1064,122.2 1068,122.2 1072,122.2 1076,122.2 1080,122.2 1084,122.2 1088,122.2 1092,122.2 1096,122.2 1100,122.2 1104,122.2 1108,122.2 1112,122.2 1116,122.2 1120,122.2 1124,122.3 1128,122.3 1132,122.3 1136,122.3 1140,122.3 1144,122.3 1148,122.3 1152,122.3 1156,122.3 1160,122.3 1164,122.3 1168,122.3 1172,122.3 1176,122.3 1180,122.3 1184,122.3 1188,122.3 1192,122.3 1196,122.3 1200,122.3 1204,122.3 1208,122.3" stroke="#ff8080" stroke-width="3.2"/>
<polyline points="585.5,51 587,63.6 588.5,74.9 590,85.2 591.5,95 593,104.3 594.5,113.7 596,123.2 597.5,133.3 599,144.2 600.5,156.2 602,170.8 603.5,186.9 605,203.3 606.5,218.4 608,230.9 609.5,239.4 611,245.7 612.5,250.9 614,255.5 615.5,260.3 617,265.5 618.5,270.7 620,275.9 621.5,281.1 623,286.3 624.5,291.4 626,296.5 627.5,301.7 629,306.8 630.5,311.9 632,317.1 633.5,322.3 635,327.5 636.5,332.7 638,338 639.5,343.5 641,349.3 642.5,355.3 644,361.3 645.5,367.1 647,372.7 648.5,377.8 650,382.3 651.5,386.2 653,389.8 654.5,393.2 656,396.4 657.5,399.4 659,402.4 660.5,405.1 662,407.8 663.5,410.3 665,412.8 666.5,415.1 668,417.3 669.5,419.5 671,421.6 672.5,423.7 674,425.7 675.5,427.6 677,429.5 678.5,431.3 680,433.1 681.5,434.8 683,436.4 684.5,438 686,439.5 687.5,441 689,442.4 690.5,443.7 692,445 693.5,446.2 695,447.4 696.5,448.5 698,449.6 699.5,450.7 701,451.7 702.5,452.7 704,453.7 705.5,454.6 707,455.5 708.5,456.4 710,457.3 711.5,458.2 713,459.1 714.5,459.9 716,460.7 717.5,461.6 719,462.4 720.5,463.2 722,463.9 723.5,464.7 725,465.4 726.5,466.2 728,466.9 729.5,467.6 731,468.3 732.5,468.9 734,469.6 735.5,470.2 737,470.8 738.5,471.5 740,472.1 741.5,472.7 743,473.3 744.5,473.8 746,474.4 747.5,475 749,475.5 750.5,476.1 752,476.6 753.5,477.1 755,477.5 756.5,478 758,478.4 759.5,478.9 761,479.3 762.5,479.7 764,480.1 765.5,480.5 767,480.8 768.5,481.2 770,481.6 771.5,481.9 773,482.2 774.5,482.5 776,482.8 777.5,483.1 779,483.3 780.5,483.5 782,483.7 783.5,483.9 785,484 786.5,484.2 788,484.3 789.5,484.5 791,484.6 792.5,484.7 794,484.9 795.5,485 797,485.1 798.5,485.2 800,485.3 806,485.7 812,486.1 818,486.4 824,486.7 830,487 836,487.3 842,487.5 848,487.8 854,488 860,488.2 866,488.4 872,488.6 878,488.8 884,488.9 890,489.1 896,489.2 902,489.3 908,489.5 914,489.6 920,489.7 926,489.8 932,489.9 938,490 944,490.1 950,490.2 956,490.3 962,490.4 968,490.5 974,490.6 980,490.7 986,490.8 992,490.9 998,491 1004,491.1 1010,491.2 1016,491.3 1022,491.4 1028,491.5 1034,491.6 1040,491.7 1046,491.8 1052,492 1058,492.1 1064,492.2 1070,492.3 1076,492.4 1082,492.5 1088,492.6 1094,492.7 1100,492.8 1106,492.9 1112,493.1 1118,493.2 1124,493.3 1130,493.4 1136,493.5 1142,493.6 1148,493.7 1154,493.8 1160,493.9 1166,494.1 1172,494.2 1178,494.3 1184,494.4 1190,494.5 1196,494.6 1202,494.7 1208,494.8 1211.5,494.9" stroke="#4a4af0" stroke-dasharray="17 9"/>
<polyline points="497.5,531 501.5,535.4 505.5,539.7 509.5,543.8 513.5,547.6 517.5,551.1 521.5,554.2 525.5,556.9 529.5,559.3 533.5,561.6 537.5,563.7 541.5,565.7 545.5,567.5 549.5,569.3 553.5,570.9 557.5,572.5 561.5,573.9 565.5,575.3 569.5,576.6 573.5,577.9 577.5,579.1 581.5,580.3 585.5,581.4 589.5,582.4 593.5,583.4 597.5,584.4 601.5,585.3 605.5,586.2 609.5,587 613.5,587.8 617.5,588.5 621.5,589.3 625.5,590 629.5,590.6 633.5,591.3 637.5,591.9 641.5,592.5 645.5,593.1 649.5,593.7 653.5,594.2 657.5,594.7 661.5,595.2 665.5,595.6 669.5,596.1 673.5,596.5 677.5,596.8 681.5,597.2 685.5,597.5 689.5,597.8 693.5,598.1 697.5,598.4 701.5,598.7 705.5,598.9 709.5,599.2 713.5,599.4 717.5,599.7 721.5,599.9 725.5,600.2 729.5,600.4 733.5,600.6 737.5,600.9 741.5,601.1 745.5,601.3 749.5,601.5 753.5,601.7 757.5,601.9 761.5,602.1 765.5,602.3 769.5,602.5 773.5,602.7 777.5,602.8 781.5,603 785.5,603.1 789.5,603.2 793.5,603.4 797.5,603.5 801.5,603.6 805.5,603.8 809.5,603.9 813.5,604 817.5,604.1 821.5,604.3 825.5,604.4 829.5,604.5 833.5,604.6 837.5,604.7 841.5,604.8 845.5,604.9 849.5,604.9 853.5,605 857.5,605.1 861.5,605.1 865.5,605.2 869.5,605.2 873.5,605.3 877.5,605.3 881.5,605.3 885.5,605.3 889.5,605.3 893.5,605.4 897.5,605.4 901.5,605.4 905.5,605.4 909.5,605.4 913.5,605.4 917.5,605.5 921.5,605.5 925.5,605.5 929.5,605.5 933.5,605.5 937.5,605.5 941.5,605.5 945.5,605.5 949.5,605.5 953.5,605.6 957.5,605.6 961.5,605.6 965.5,605.6 969.5,605.6 973.5,605.6 977.5,605.6 981.5,605.6 985.5,605.6 989.5,605.6 993.5,605.6 997.5,605.6 1001.5,605.6 1005.5,605.6 1009.5,605.6 1013.5,605.6 1017.5,605.5 1021.5,605.5 1025.5,605.4 1029.5,605.4 1033.5,605.3 1037.5,605.3 1041.5,605.2 1045.5,605.1 1049.5,605.1 1053.5,605 1057.5,604.9 1061.5,604.8 1065.5,604.7 1069.5,604.7 1073.5,604.6 1077.5,604.5 1081.5,604.4 1085.5,604.3 1089.5,604.2 1093.5,604.1 1097.5,604.1 1101.5,604 1105.5,603.9 1109.5,603.8 1113.5,603.7 1117.5,603.6 1121.5,603.5 1125.5,603.4 1129.5,603.3 1133.5,603.2 1137.5,603.1 1141.5,603 1145.5,602.8 1149.5,602.7 1153.5,602.6 1157.5,602.5 1161.5,602.4 1165.5,602.2 1169.5,602.1 1173.5,602 1177.5,601.8 1181.5,601.7 1185.5,601.6 1189.5,601.4 1193.5,601.3 1197.5,601.1 1201.5,601 1205.5,600.8 1209.5,600.7" stroke="#ff5a5a" stroke-dasharray="17 9"/>
<polyline points="487.2,521 527.9,548 568.6,566.4 609.4,576.7 650.1,583 690.8,587.2 731.5,590 772.2,591.7 813,593.2 853.7,593.9 894.4,593.9 935.1,593.9 975.8,593.9 1016.6,593.9 1057.3,593.5 1098,593 1138.7,592.1 1179.4,590.8 1220.2,589.5" stroke="#86f586" stroke-width="2.6" stroke-dasharray="3 5.5"/>
<rect x="523.2" y="543.3" width="9.4" height="9.4" stroke="#5ff05f" stroke-width="2.8" fill="#e4fae4"/>
<rect x="563.9" y="561.7" width="9.4" height="9.4" stroke="#5ff05f" stroke-width="2.8" fill="#e4fae4"/>
<rect x="604.7" y="572" width="9.4" height="9.4" stroke="#5ff05f" stroke-width="2.8" fill="#e4fae4"/>
<rect x="645.4" y="578.3" width="9.4" height="9.4" stroke="#5ff05f" stroke-width="2.8" fill="#e4fae4"/>
<rect x="686.1" y="582.5" width="9.4" height="9.4" stroke="#5ff05f" stroke-width="2.8" fill="#e4fae4"/>
<rect x="726.8" y="585.3" width="9.4" height="9.4" stroke="#5ff05f" stroke-width="2.8" fill="#e4fae4"/>
<rect x="767.5" y="587" width="9.4" height="9.4" stroke="#5ff05f" stroke-width="2.8" fill="#e4fae4"/>
<rect x="808.3" y="588.5" width="9.4" height="9.4" stroke="#5ff05f" stroke-width="2.8" fill="#e4fae4"/>
<rect x="849" y="589.2" width="9.4" height="9.4" stroke="#5ff05f" stroke-width="2.8" fill="#e4fae4"/>
<rect x="889.7" y="589.2" width="9.4" height="9.4" stroke="#5ff05f" stroke-width="2.8" fill="#e4fae4"/>
<rect x="930.4" y="589.2" width="9.4" height="9.4" stroke="#5ff05f" stroke-width="2.8" fill="#e4fae4"/>
<rect x="971.1" y="589.2" width="9.4" height="9.4" stroke="#5ff05f" stroke-width="2.8" fill="#e4fae4"/>
<rect x="1011.9" y="589.2" width="9.4" height="9.4" stroke="#5ff05f" stroke-width="2.8" fill="#e4fae4"/>
<rect x="1052.6" y="588.8" width="9.4" height="9.4" stroke="#5ff05f" stroke-width="2.8" fill="#e4fae4"/>
<rect x="1093.3" y="588.3" width="9.4" height="9.4" stroke="#5ff05f" stroke-width="2.8" fill="#e4fae4"/>
<rect x="1134" y="587.4" width="9.4" height="9.4" stroke="#5ff05f" stroke-width="2.8" fill="#e4fae4"/>
<rect x="1174.7" y="586.1" width="9.4" height="9.4" stroke="#5ff05f" stroke-width="2.8" fill="#e4fae4"/>
<polyline points="568.3,-40.2 609,240 649.7,391.5 690.4,455 731.2,482.2 771.9,493.7 812.6,497.3 853.3,499.5 894,500.2 934.8,500.7 975.5,501.2 1016.2,501.9 1056.9,502.7 1097.6,503.5 1138.4,504.2 1179.1,505 1219.8,505.6" stroke="#9ffafa" stroke-width="2.6" stroke-dasharray="3 5.5"/>
<rect x="604.3" y="235.3" width="9.4" height="9.4" stroke="#4df3f3" stroke-width="2.8" fill="#e2fcfc"/>
<rect x="645" y="386.8" width="9.4" height="9.4" stroke="#4df3f3" stroke-width="2.8" fill="#e2fcfc"/>
<rect x="685.7" y="450.3" width="9.4" height="9.4" stroke="#4df3f3" stroke-width="2.8" fill="#e2fcfc"/>
<rect x="726.5" y="477.5" width="9.4" height="9.4" stroke="#4df3f3" stroke-width="2.8" fill="#e2fcfc"/>
<rect x="767.2" y="489" width="9.4" height="9.4" stroke="#4df3f3" stroke-width="2.8" fill="#e2fcfc"/>
<rect x="807.9" y="492.6" width="9.4" height="9.4" stroke="#4df3f3" stroke-width="2.8" fill="#e2fcfc"/>
<rect x="848.6" y="494.8" width="9.4" height="9.4" stroke="#4df3f3" stroke-width="2.8" fill="#e2fcfc"/>
<rect x="889.3" y="495.5" width="9.4" height="9.4" stroke="#4df3f3" stroke-width="2.8" fill="#e2fcfc"/>
<rect x="930.1" y="496" width="9.4" height="9.4" stroke="#4df3f3" stroke-width="2.8" fill="#e2fcfc"/>
<rect x="970.8" y="496.5" width="9.4" height="9.4" stroke="#4df3f3" stroke-width="2.8" fill="#e2fcfc"/>
<rect x="1011.5" y="497.2" width="9.4" height="9.4" stroke="#4df3f3" stroke-width="2.8" fill="#e2fcfc"/>
<rect x="1052.2" y="498" width="9.4" height="9.4" stroke="#4df3f3" stroke-width="2.8" fill="#e2fcfc"/>
<rect x="1092.9" y="498.8" width="9.4" height="9.4" stroke="#4df3f3" stroke-width="2.8" fill="#e2fcfc"/>
<rect x="1133.7" y="499.5" width="9.4" height="9.4" stroke="#4df3f3" stroke-width="2.8" fill="#e2fcfc"/>
<rect x="1174.4" y="500.3" width="9.4" height="9.4" stroke="#4df3f3" stroke-width="2.8" fill="#e2fcfc"/>
</g></g>
<g fill="#757575">
<rect x="566.9" y="53" width="3" height="7.5"/>
<rect x="566.9" y="607.5" width="3" height="7.5"/>
<rect x="770.5" y="53" width="3" height="7.5"/>
<rect x="770.5" y="607.5" width="3" height="7.5"/>
<rect x="974.1" y="53" width="3" height="7.5"/>
<rect x="974.1" y="607.5" width="3" height="7.5"/>
<rect x="1177.7" y="53" width="3" height="7.5"/>
<rect x="1177.7" y="607.5" width="3" height="7.5"/>
<rect x="498" y="149.8" width="9" height="3"/>
<rect x="1201" y="149.8" width="9" height="3"/>
<rect x="498" y="253.8" width="9" height="3"/>
<rect x="1201" y="253.8" width="9" height="3"/>
<rect x="498" y="357.7" width="9" height="3"/>
<rect x="1201" y="357.7" width="9" height="3"/>
<rect x="498" y="461.5" width="9" height="3"/>
<rect x="1201" y="461.5" width="9" height="3"/>
<rect x="498" y="565.5" width="9" height="3"/>
<rect x="1201" y="565.5" width="9" height="3"/>
</g>
<g shape-rendering="crispEdges">
<rect x="498" y="53.1" width="712" height="2.6" fill="#e9e9e9"/>
<rect x="498" y="53" width="2.8" height="561.4" fill="#d9d9d9"/>
<rect x="1207.2" y="53" width="2.9" height="561.4" fill="#ebebeb"/>
<rect x="495" y="50" width="715.2" height="3.1" fill="#999999"/>
<rect x="498" y="614.4" width="715" height="3.2" fill="#8c8c8c"/>
<rect x="495" y="50" width="3" height="567.6" fill="#b5b5b5"/>
<rect x="1210.1" y="53" width="2.9" height="564.6" fill="#999999"/>
<line x1="1211.6" y1="53" x2="1211.6" y2="614" stroke="#777777" stroke-width="3.4" stroke-dasharray="4.5 11.365" stroke-dashoffset="-7.2"/>
</g>
</g>
<g id="annotation" stroke="#ff0000" stroke-width="4.9" fill="none">
<ellipse cx="334.9" cy="1153.9" rx="86.5" ry="158.5"/>
<line x1="370.2" y1="1004.5" x2="511.6" y2="650"/>
<polygon points="522.2,619 494,643.4 511.4,646.2 525.9,656.7" fill="#ff0000" stroke="none"/>
</g>
<g id="legend">
<rect x="1254.5" y="544.5" width="684.1" height="511.5" fill="#ffffff" stroke="#262626" stroke-width="3" shape-rendering="crispEdges"/>
<line x1="1270.3" y1="579" x2="1428.7" y2="579" stroke="#000000" stroke-width="6" shape-rendering="crispEdges"/>
<text x="1441" y="593.9" font-size="47.4" class="lg">MFOCUSS-STAP</text>
<line x1="1270.3" y1="636" x2="1428.7" y2="636" stroke="#ff0000" stroke-width="6" shape-rendering="crispEdges"/>
<text x="1441" y="650.9" font-size="47.4" class="lg">MIAA-STAP</text>
<line x1="1270.3" y1="693.8" x2="1428.7" y2="693.8" stroke="#000000" stroke-width="6" stroke-dasharray="40 23" shape-rendering="crispEdges"/>
<text x="1441" y="708.7" font-size="47.4" class="lg">MSBL-STAP</text>
<line x1="1270.3" y1="751.5" x2="1428.7" y2="751.5" stroke="#ff0000" stroke-width="6" stroke-dasharray="40 23" shape-rendering="crispEdges"/>
<text x="1441" y="766.4" font-size="47.4" class="lg">MFCSBL-STAP</text>
<line x1="1270.3" y1="818.5" x2="1428.7" y2="818.5" stroke="#0000ff" stroke-width="6" stroke-dasharray="40 23" shape-rendering="crispEdges"/>
<text x="1441" y="823.9" font-size="47.4" class="lg">IRL<tspan font-size="38" dy="24.5">2,1</tspan><tspan dy="-24.5">-MSBL-STAP</tspan></text>
<line x1="1270.3" y1="885.8" x2="1420.7" y2="885.8" stroke="#ff00ff" stroke-width="5" stroke-dasharray="4.5 11.33" shape-rendering="crispEdges"/>
<rect x="1341.8" y="879" width="13.6" height="13.6" fill="#ff00ff" shape-rendering="crispEdges"/>
<text x="1441" y="900.3" font-size="47.4" class="lg">GS-MSBL-STAP</text>
<line x1="1270.3" y1="943" x2="1420.7" y2="943" stroke="#00ff00" stroke-width="5" stroke-dasharray="4.5 11.33" shape-rendering="crispEdges"/>
<rect x="1341.8" y="936.2" width="13.6" height="13.6" fill="#00ff00" shape-rendering="crispEdges"/>
<text x="1441" y="957.3" font-size="47.4" class="lg">GS-MFCSBL-STAP</text>
<line x1="1270.3" y1="1010.4" x2="1420.7" y2="1010.4" stroke="#00ffff" stroke-width="5" stroke-dasharray="4.5 11.33" shape-rendering="crispEdges"/>
<rect x="1341.8" y="1003.6" width="13.6" height="13.6" fill="#00ffff" shape-rendering="crispEdges"/>
<text x="1441" y="1016.7" font-size="47.4" class="lg">GS-IRL<tspan font-size="38" dy="24.5">2,1</tspan><tspan dy="-24.5">-MSBL-STAP</tspan></text>
</g>
</svg>
</body></html>
